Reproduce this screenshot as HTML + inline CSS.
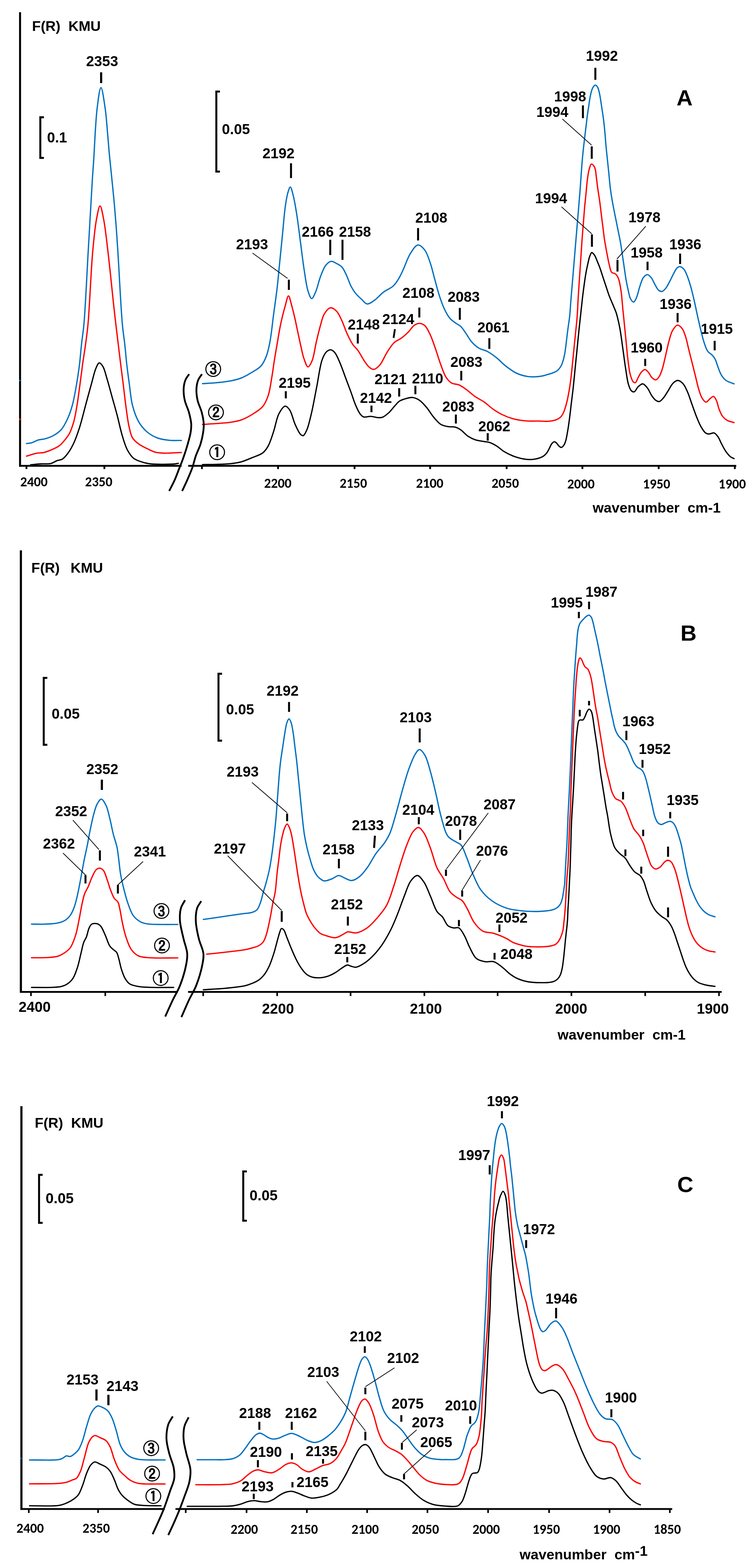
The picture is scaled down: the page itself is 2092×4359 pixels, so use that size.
<!DOCTYPE html>
<html><head><meta charset="utf-8"><title>F(R) spectra</title>
<style>
html,body{margin:0;padding:0;background:#fff;}
svg{display:block;}
text{font-family:"Liberation Sans",Arial,sans-serif;font-weight:bold;fill:#000;}
.a{font-size:40px;text-anchor:middle;}
.t{font-family:Carlito,"Liberation Sans",sans-serif;font-size:37.5px;text-anchor:middle;}
.w{font-size:39.5px;text-anchor:start;}
.L{font-size:62px;text-anchor:middle;}
.c{font-family:IPAGothic,"Liberation Sans",sans-serif;font-size:39px;text-anchor:middle;stroke:#000;stroke-width:0.9px;}
</style></head><body>
<svg xmlns="http://www.w3.org/2000/svg" width="2092" height="4359" viewBox="0 0 2092 4359">
<rect width="2092" height="4359" fill="#fff"/>
<path d="M85.0 1292.0 C94.3 1291.2 103.6 1290.2 113.0 1289.6 C122.5 1289.0 133.5 1290.5 141.6 1288.5 C148.2 1286.9 153.1 1282.5 158.6 1280.5 C163.4 1278.7 168.3 1279.2 172.7 1276.6 C177.9 1273.6 182.3 1268.3 186.9 1262.4 C192.8 1254.8 198.7 1244.8 203.9 1234.0 C210.2 1220.9 215.6 1205.2 220.9 1188.8 C227.0 1169.8 232.2 1147.3 237.8 1126.5 C243.5 1105.7 249.6 1082.6 254.8 1064.2 C258.9 1049.5 261.8 1034.6 266.2 1024.6 C269.1 1017.9 272.3 1009.1 275.8 1008.7 C278.9 1008.3 283.0 1014.1 286.0 1019.0 C290.7 1026.7 293.5 1040.5 297.3 1053.0 C301.9 1068.2 306.8 1086.9 311.5 1103.9 C316.2 1120.9 321.0 1137.3 325.6 1154.8 C330.4 1173.2 334.6 1194.4 339.8 1211.5 C344.2 1226.0 348.1 1240.0 354.0 1251.0 C358.9 1260.1 363.9 1268.1 371.0 1273.8 C378.0 1279.4 388.0 1282.3 396.4 1285.0 C404.0 1287.4 410.7 1288.6 419.0 1289.6 C429.1 1290.8 441.7 1290.7 453.0 1290.7 C464.3 1290.7 479.5 1290.4 487.0 1289.6 C490.8 1289.2 492.7 1288.5 495.5 1288.0" stroke="#000000" stroke-width="3.6" fill="none" stroke-linejoin="round" stroke-linecap="round"/>
<path d="M73.6 1233.0 C78.3 1232.3 82.8 1232.4 87.8 1231.0 C94.0 1229.3 101.1 1224.6 107.6 1222.8 C113.4 1221.1 118.6 1221.6 124.6 1220.0 C131.7 1218.1 139.9 1215.5 147.2 1211.5 C155.1 1207.2 163.5 1201.7 169.9 1194.5 C176.9 1186.8 181.9 1176.5 186.9 1166.0 C192.5 1154.1 197.0 1141.0 201.0 1126.5 C205.7 1109.5 209.1 1088.9 212.4 1070.0 C215.7 1051.1 218.5 1032.0 220.9 1013.0 C223.2 994.2 224.4 975.4 226.5 956.6 C228.6 937.7 231.1 924.7 233.3 900.0 C237.4 853.7 241.1 766.7 245.0 700.0 C248.9 633.3 253.7 544.4 256.5 500.0 C257.9 477.8 258.6 471.1 260.0 450.0 C262.5 413.4 265.2 337.9 270.0 300.0 C273.0 276.6 276.8 243.5 280.5 243.5 C284.2 243.5 289.1 280.8 292.0 300.0 C295.0 319.6 296.2 340.0 298.0 360.0 C299.8 380.0 301.2 400.0 303.0 420.0 C304.8 440.0 306.9 459.2 309.0 480.0 C311.2 502.4 313.8 526.7 316.0 550.0 C318.2 573.3 320.1 595.9 322.0 620.0 C324.0 645.8 325.4 667.3 327.5 700.0 C330.9 751.7 335.6 853.7 339.8 900.0 C342.0 924.7 344.5 937.7 346.6 956.6 C348.7 975.4 350.0 994.2 352.2 1013.0 C354.4 1032.0 357.0 1051.1 359.6 1070.0 C362.2 1088.9 363.5 1108.9 368.0 1126.5 C372.2 1142.7 377.7 1159.2 385.0 1172.0 C391.3 1183.1 399.0 1192.4 407.7 1200.0 C416.1 1207.3 425.8 1213.0 436.0 1217.0 C446.5 1221.1 458.6 1222.8 470.0 1224.0 C481.3 1225.2 492.7 1224.3 504.0 1224.5" stroke="#0070c0" stroke-width="3.6" fill="none" stroke-linejoin="round" stroke-linecap="round"/>
<path d="M73.6 1268.0 C83.1 1265.3 93.3 1261.6 102.0 1260.0 C109.1 1258.6 115.3 1259.5 121.8 1258.0 C128.5 1256.5 134.9 1253.9 141.6 1251.0 C148.9 1247.9 158.0 1244.1 164.0 1239.8 C168.8 1236.4 171.5 1233.1 175.5 1228.5 C180.8 1222.4 187.8 1214.5 192.5 1205.8 C197.8 1196.0 201.5 1184.3 205.0 1172.0 C208.9 1158.1 211.3 1142.5 214.0 1126.5 C217.0 1108.7 219.4 1088.9 222.0 1070.0 C224.6 1051.0 226.8 1031.9 229.4 1013.0 C232.0 994.1 235.3 975.4 237.8 956.6 C240.3 937.8 242.3 924.7 244.6 900.0 C248.9 853.7 252.7 753.5 257.5 700.0 C260.8 664.0 263.5 633.4 268.0 610.0 C270.9 594.7 274.7 572.5 278.0 572.5 C281.3 572.5 285.0 594.7 288.0 610.0 C292.7 633.4 295.9 666.2 300.0 700.0 C305.2 743.6 312.0 813.4 316.0 850.0 C318.3 871.1 319.7 882.8 321.7 900.0 C323.8 918.3 326.2 937.8 328.5 956.6 C330.8 975.4 333.0 994.2 335.3 1013.0 C337.7 1032.0 340.2 1051.0 342.6 1070.0 C344.9 1088.9 346.9 1107.7 349.4 1126.5 C352.0 1145.4 354.3 1166.7 357.9 1183.0 C360.8 1195.9 362.7 1208.1 368.0 1217.0 C372.4 1224.3 378.5 1229.1 385.0 1234.0 C391.7 1239.1 400.1 1242.8 407.7 1246.6 C415.2 1250.4 422.7 1254.6 430.4 1256.8 C437.8 1258.9 443.9 1259.2 453.0 1259.6 C466.6 1260.2 487.0 1258.5 504.0 1258.0" stroke="#ff0000" stroke-width="3.6" fill="none" stroke-linejoin="round" stroke-linecap="round"/>
<path d="M562.5 1291.5 C575.0 1291.3 587.3 1291.4 600.0 1291.0 C613.1 1290.6 627.7 1290.3 640.0 1289.0 C650.8 1287.8 660.1 1286.7 670.0 1284.0 C680.1 1281.2 690.1 1276.6 700.0 1272.5 C710.1 1268.3 722.2 1265.1 730.0 1259.0 C736.7 1253.8 740.5 1247.9 745.0 1240.0 C750.9 1229.5 755.2 1214.2 760.0 1200.0 C765.3 1184.3 768.2 1162.6 775.0 1150.0 C779.9 1140.9 786.9 1129.4 792.5 1129.0 C796.8 1128.7 801.2 1134.5 805.0 1140.0 C811.0 1148.7 814.5 1168.1 820.0 1180.0 C824.7 1190.2 830.1 1202.9 835.0 1207.5 C837.5 1209.9 840.1 1211.7 842.5 1211.0 C846.1 1209.9 849.4 1202.0 852.5 1195.0 C857.3 1184.0 860.9 1167.0 865.0 1150.0 C870.2 1128.3 875.0 1100.0 880.0 1075.0 C885.0 1050.0 888.6 1017.4 895.0 1000.0 C898.7 989.9 902.6 982.0 907.5 977.5 C911.0 974.4 915.3 972.2 919.0 972.5 C922.8 972.9 926.5 976.0 930.0 980.0 C935.5 986.3 940.3 999.1 945.0 1010.0 C950.3 1022.2 955.0 1036.7 960.0 1050.0 C965.0 1063.3 970.3 1077.1 975.0 1090.0 C979.4 1102.0 983.0 1114.4 987.5 1125.0 C991.4 1134.2 995.5 1144.0 1000.0 1150.0 C1003.2 1154.1 1005.7 1157.5 1010.0 1159.0 C1015.2 1160.8 1023.4 1157.2 1030.0 1157.5 C1036.7 1157.8 1044.1 1160.7 1050.0 1161.0 C1054.6 1161.2 1058.2 1161.6 1062.5 1160.0 C1068.1 1157.9 1074.4 1152.5 1080.0 1147.5 C1086.2 1141.9 1092.1 1133.3 1097.5 1127.5 C1101.9 1122.8 1104.9 1118.3 1110.0 1115.0 C1115.6 1111.4 1123.6 1109.2 1130.0 1107.5 C1135.6 1106.0 1140.5 1104.4 1146.0 1105.0 C1152.2 1105.7 1159.0 1108.5 1165.0 1112.5 C1172.1 1117.2 1178.6 1125.0 1185.0 1132.5 C1192.0 1140.7 1198.0 1151.8 1205.0 1160.0 C1211.4 1167.5 1217.7 1175.7 1225.0 1180.0 C1231.2 1183.7 1238.3 1184.8 1245.0 1186.0 C1251.6 1187.2 1259.0 1185.8 1265.0 1187.5 C1270.5 1189.0 1274.9 1191.6 1280.0 1195.0 C1286.5 1199.3 1293.0 1207.8 1300.0 1212.5 C1306.4 1216.8 1312.8 1220.0 1320.0 1222.5 C1327.7 1225.1 1337.7 1226.2 1345.0 1227.5 C1350.6 1228.5 1354.8 1228.3 1360.0 1230.0 C1366.3 1232.1 1373.5 1236.0 1380.0 1240.0 C1386.9 1244.2 1392.7 1250.5 1400.0 1255.0 C1407.7 1259.7 1416.5 1264.1 1425.0 1267.5 C1433.2 1270.8 1441.6 1273.3 1450.0 1275.0 C1458.3 1276.6 1466.7 1277.9 1475.0 1277.5 C1483.4 1277.1 1493.6 1274.9 1500.0 1272.7 C1504.4 1271.2 1507.3 1269.8 1510.5 1267.5 C1513.7 1265.2 1516.6 1262.1 1519.2 1258.8 C1521.9 1255.2 1524.0 1250.6 1526.2 1246.5 C1528.4 1242.5 1529.8 1237.5 1532.3 1234.3 C1534.3 1231.7 1536.9 1228.6 1539.3 1228.2 C1541.3 1227.9 1543.5 1229.3 1545.4 1230.8 C1547.9 1232.7 1549.9 1237.3 1552.4 1239.6 C1554.6 1241.5 1557.1 1244.1 1559.4 1243.9 C1561.8 1243.7 1564.5 1240.5 1566.4 1237.8 C1568.7 1234.6 1570.1 1230.5 1571.6 1225.6 C1573.8 1218.6 1575.3 1208.8 1576.9 1199.4 C1578.8 1188.6 1580.5 1176.7 1582.1 1164.4 C1583.9 1150.7 1585.6 1135.3 1587.3 1120.8 C1589.1 1106.2 1590.9 1092.3 1592.6 1077.1 C1594.4 1060.4 1596.1 1042.2 1597.8 1024.7 C1599.6 1007.2 1601.3 989.8 1603.1 972.3 C1604.8 954.8 1606.5 937.1 1608.3 919.9 C1610.0 903.1 1612.0 885.7 1613.7 870.0 C1615.2 856.1 1616.5 843.3 1618.0 830.5 C1619.4 818.5 1620.8 807.2 1622.4 795.6 C1624.0 783.9 1625.7 771.4 1627.6 760.6 C1629.2 751.2 1631.0 742.6 1632.9 734.4 C1634.6 727.0 1635.9 719.3 1638.1 713.5 C1639.8 709.0 1641.8 702.5 1644.2 702.1 C1646.5 701.8 1649.8 706.7 1652.1 710.0 C1654.9 714.1 1656.8 720.3 1659.1 725.7 C1661.5 731.4 1663.7 736.7 1666.1 743.2 C1669.0 751.0 1671.9 760.7 1674.8 769.4 C1677.7 778.1 1680.6 786.9 1683.5 795.6 C1686.4 804.3 1689.2 813.6 1692.3 821.8 C1695.1 829.2 1698.1 835.8 1701.0 842.8 C1703.9 849.8 1707.6 858.3 1709.7 863.7 C1711.0 867.1 1711.6 868.1 1712.7 872.0 C1715.2 880.5 1719.4 898.5 1722.2 913.2 C1725.3 929.9 1727.5 948.9 1730.1 967.2 C1732.8 986.0 1735.3 1006.5 1738.1 1024.3 C1740.6 1040.1 1742.5 1057.5 1746.0 1068.7 C1748.3 1076.0 1750.5 1082.8 1753.9 1086.1 C1756.2 1088.3 1759.2 1090.0 1761.8 1089.3 C1765.6 1088.3 1768.8 1078.8 1773.0 1075.0 C1776.8 1071.6 1781.5 1066.8 1785.6 1067.1 C1790.0 1067.4 1794.4 1073.5 1798.3 1078.2 C1803.1 1084.0 1806.6 1094.2 1811.0 1100.4 C1814.6 1105.4 1818.2 1110.5 1822.1 1113.1 C1825.1 1115.1 1828.5 1116.9 1831.6 1116.3 C1835.4 1115.6 1839.1 1110.7 1842.7 1106.7 C1847.1 1101.7 1851.1 1094.3 1855.4 1087.7 C1860.1 1080.6 1864.4 1070.7 1869.7 1065.5 C1873.7 1061.6 1878.0 1057.7 1882.4 1057.6 C1887.0 1057.5 1892.5 1061.4 1896.6 1065.5 C1901.8 1070.6 1905.4 1079.3 1909.3 1087.7 C1914.0 1097.8 1917.8 1111.0 1922.0 1122.6 C1926.2 1134.2 1930.3 1146.5 1934.7 1157.5 C1938.8 1167.6 1942.7 1177.9 1947.4 1186.0 C1951.3 1192.8 1955.6 1200.2 1960.1 1203.5 C1963.1 1205.7 1966.1 1206.4 1969.6 1206.6 C1973.8 1206.8 1979.6 1202.3 1983.8 1203.5 C1988.1 1204.8 1991.7 1210.1 1995.0 1214.6 C1998.8 1219.8 2001.0 1227.1 2004.5 1233.6 C2008.3 1240.8 2012.5 1249.4 2017.1 1255.8 C2021.1 1261.3 2025.5 1266.9 2029.8 1270.1 C2033.0 1272.5 2036.2 1273.2 2039.4 1274.8" stroke="#000000" stroke-width="3.6" fill="none" stroke-linejoin="round" stroke-linecap="round"/>
<path d="M562.5 1180.0 C575.0 1179.2 587.3 1178.5 600.0 1177.5 C613.1 1176.5 627.7 1175.9 640.0 1174.0 C650.8 1172.4 660.2 1170.9 670.0 1167.5 C680.2 1163.9 690.3 1158.5 700.0 1152.5 C710.3 1146.1 722.4 1139.1 730.0 1130.0 C737.2 1121.4 741.0 1111.6 745.0 1100.0 C749.9 1085.7 752.1 1066.7 755.0 1050.0 C757.9 1033.4 759.8 1016.7 762.5 1000.0 C765.2 983.3 768.1 966.7 771.0 950.0 C773.9 933.3 776.4 916.6 780.0 900.0 C783.6 883.3 788.4 864.1 792.5 850.0 C795.6 839.4 798.5 822.5 801.5 822.5 C804.5 822.5 807.7 840.3 810.5 850.0 C813.6 860.7 816.3 872.2 819.0 884.0 C821.9 896.7 824.7 910.4 827.5 923.6 C830.3 936.8 833.1 950.4 836.0 963.0 C838.7 974.8 840.8 987.0 844.5 997.0 C847.6 1005.6 851.8 1019.6 855.8 1019.9 C859.4 1020.1 863.8 1010.5 867.0 1003.0 C872.2 990.9 874.6 968.5 878.5 952.0 C882.2 936.4 885.8 920.6 889.8 906.6 C893.3 894.4 895.5 881.6 901.0 872.7 C905.5 865.4 912.0 856.6 918.0 855.7 C923.4 854.9 930.1 860.1 935.0 865.0 C941.2 871.2 945.4 882.3 950.0 892.0 C955.1 902.8 958.9 915.9 964.0 927.0 C968.9 937.6 974.2 949.0 980.0 957.5 C984.7 964.5 990.3 968.4 995.0 975.0 C1000.3 982.4 1004.8 992.3 1010.0 1000.0 C1014.8 1007.2 1019.6 1015.4 1025.0 1020.0 C1029.1 1023.5 1033.5 1027.3 1038.0 1027.0 C1043.4 1026.7 1049.7 1020.8 1055.0 1015.0 C1062.4 1006.9 1068.0 990.8 1075.0 980.0 C1081.4 970.1 1087.6 959.4 1095.0 952.5 C1101.2 946.8 1108.5 944.8 1115.0 940.0 C1121.9 934.9 1129.0 928.6 1135.0 922.5 C1140.6 916.9 1144.5 909.0 1150.0 905.0 C1154.6 901.7 1160.0 899.0 1165.0 899.0 C1170.0 899.0 1175.5 901.2 1180.0 905.0 C1186.0 910.1 1190.4 920.5 1195.0 930.0 C1200.6 941.6 1205.1 956.2 1210.0 970.0 C1215.1 984.5 1219.7 1001.0 1225.0 1015.0 C1229.8 1027.5 1234.0 1041.2 1240.0 1050.0 C1244.5 1056.6 1249.1 1061.7 1255.0 1065.0 C1260.8 1068.3 1268.5 1067.3 1275.0 1070.0 C1281.9 1072.9 1288.1 1077.6 1295.0 1082.5 C1303.0 1088.2 1311.5 1096.6 1320.0 1102.5 C1328.1 1108.2 1336.9 1111.8 1345.0 1117.5 C1353.5 1123.4 1361.5 1131.6 1370.0 1137.5 C1378.1 1143.2 1386.1 1148.2 1395.0 1152.5 C1404.4 1157.1 1414.5 1161.1 1425.0 1164.0 C1436.1 1167.0 1447.9 1168.9 1460.0 1170.0 C1472.8 1171.2 1489.4 1170.2 1500.0 1170.5 C1507.0 1170.7 1511.7 1171.5 1517.5 1171.4 C1523.3 1171.3 1529.7 1170.7 1535.0 1169.7 C1539.5 1168.8 1543.4 1168.0 1547.2 1166.2 C1551.0 1164.5 1554.6 1162.2 1557.6 1159.2 C1560.8 1155.9 1563.3 1151.6 1565.5 1147.0 C1568.0 1141.8 1569.8 1135.6 1571.6 1129.5 C1573.6 1122.9 1575.3 1115.7 1576.9 1108.5 C1578.5 1101.1 1579.8 1093.9 1581.2 1085.8 C1582.8 1076.6 1584.3 1066.1 1585.6 1056.1 C1586.9 1045.8 1588.0 1035.5 1589.1 1024.7 C1590.3 1013.4 1591.4 1001.4 1592.6 989.7 C1593.8 978.1 1594.9 966.4 1596.1 954.8 C1597.3 943.2 1598.4 931.5 1599.6 919.9 C1600.8 908.2 1602.0 898.3 1603.1 884.9 C1604.5 867.0 1605.5 841.9 1606.7 821.8 C1607.8 803.5 1609.0 786.9 1610.2 769.4 C1611.4 751.9 1612.5 734.5 1613.7 717.0 C1614.9 699.5 1616.0 681.3 1617.2 664.6 C1618.3 649.4 1619.5 635.5 1620.7 620.9 C1621.8 606.3 1622.9 590.9 1624.1 577.2 C1625.2 564.9 1626.4 554.6 1627.6 542.3 C1629.0 528.6 1630.3 511.3 1632.0 498.6 C1633.3 488.7 1634.3 480.0 1636.4 472.4 C1638.1 466.2 1640.1 456.7 1643.0 456.0 C1645.1 455.5 1648.5 459.5 1650.3 461.9 C1652.1 464.4 1652.9 467.1 1653.8 470.7 C1655.2 475.8 1655.5 482.5 1656.5 489.9 C1657.8 499.8 1659.2 513.2 1660.8 524.8 C1662.4 536.4 1664.5 548.0 1666.1 559.7 C1667.7 571.3 1668.9 583.0 1670.4 594.7 C1671.8 606.3 1673.3 618.0 1674.8 629.6 C1676.3 641.3 1677.5 653.0 1679.2 664.6 C1681.0 676.3 1683.1 687.9 1685.3 699.5 C1687.5 711.1 1689.7 724.1 1692.3 734.4 C1694.4 742.8 1695.6 753.0 1699.3 757.1 C1701.6 759.7 1705.6 759.2 1708.0 760.6 C1709.9 761.7 1711.2 762.4 1712.7 764.2 C1715.0 767.0 1717.2 771.6 1719.0 776.9 C1721.8 785.0 1723.6 796.9 1725.4 808.6 C1727.5 822.8 1728.5 840.3 1730.1 856.2 C1731.7 872.0 1733.3 887.9 1734.9 903.7 C1736.5 919.6 1738.0 935.4 1739.6 951.3 C1741.2 967.2 1742.5 983.6 1744.4 998.9 C1746.2 1013.2 1747.7 1028.9 1750.7 1040.1 C1752.9 1048.3 1755.4 1057.0 1758.7 1060.7 C1760.6 1062.8 1763.0 1064.5 1765.0 1063.9 C1768.0 1063.0 1770.1 1054.5 1772.9 1049.6 C1775.9 1044.4 1778.8 1037.6 1782.5 1033.8 C1785.4 1030.8 1788.9 1027.2 1792.0 1027.4 C1795.2 1027.6 1798.6 1032.0 1801.5 1035.3 C1805.0 1039.2 1807.2 1046.1 1811.0 1049.6 C1814.3 1052.7 1818.7 1056.4 1822.1 1056.0 C1825.6 1055.5 1828.9 1050.5 1831.6 1046.5 C1834.9 1041.5 1837.0 1035.0 1839.5 1027.4 C1842.9 1017.0 1845.9 1002.3 1849.0 989.4 C1852.2 975.9 1855.1 960.5 1858.6 948.1 C1861.6 937.6 1863.6 927.4 1868.1 919.6 C1871.9 913.1 1877.6 904.2 1882.4 903.7 C1886.6 903.3 1891.5 908.8 1895.0 913.2 C1899.3 918.7 1901.8 927.2 1904.6 935.4 C1907.8 944.9 1909.7 956.1 1912.5 967.2 C1915.5 979.3 1918.8 992.5 1922.0 1005.2 C1925.2 1017.9 1928.3 1030.6 1931.5 1043.3 C1934.7 1056.0 1937.5 1070.0 1941.0 1081.3 C1943.9 1090.7 1946.4 1100.3 1950.5 1106.7 C1953.6 1111.6 1957.8 1117.7 1961.6 1117.8 C1965.2 1117.9 1969.0 1111.0 1972.7 1108.3 C1975.9 1105.9 1979.5 1101.5 1982.3 1102.0 C1985.4 1102.6 1987.9 1108.4 1990.2 1113.1 C1993.4 1119.6 1995.0 1130.7 1998.1 1138.4 C2000.9 1145.3 2003.6 1152.3 2007.6 1157.5 C2011.2 1162.1 2015.3 1165.7 2020.3 1168.6 C2025.8 1171.7 2033.0 1172.8 2039.4 1174.9" stroke="#ff0000" stroke-width="3.6" fill="none" stroke-linejoin="round" stroke-linecap="round"/>
<path d="M562.5 1066.5 C575.0 1065.7 587.3 1065.2 600.0 1064.0 C613.1 1062.7 627.7 1061.4 640.0 1059.0 C650.8 1056.9 660.2 1054.9 670.0 1051.0 C680.2 1047.0 690.6 1040.8 700.0 1035.0 C708.9 1029.5 718.4 1024.9 725.0 1017.5 C731.7 1010.0 736.0 1000.3 740.0 990.0 C744.6 978.2 747.0 965.5 750.0 950.0 C754.0 929.0 756.7 900.0 760.0 875.0 C763.3 850.0 767.1 825.0 770.0 800.0 C772.9 775.0 775.0 750.0 777.5 725.0 C780.0 700.0 782.5 675.0 785.0 650.0 C787.5 625.0 789.5 596.0 792.5 575.0 C794.7 559.5 796.9 545.0 800.0 535.0 C801.9 528.7 804.3 519.9 806.5 520.0 C809.3 520.1 812.4 534.9 815.0 545.0 C818.8 559.7 821.9 580.2 825.0 600.0 C828.6 623.0 831.7 650.0 835.0 675.0 C838.3 700.0 841.3 726.4 845.0 750.0 C848.3 771.2 851.2 795.6 856.0 810.0 C858.9 818.7 862.4 829.9 866.0 830.0 C869.6 830.1 874.0 818.0 877.5 810.0 C882.2 799.2 885.2 782.5 890.0 770.0 C894.4 758.5 898.9 745.0 905.0 737.5 C909.4 732.1 914.8 727.2 920.0 726.5 C924.8 725.9 930.1 729.9 935.0 732.5 C940.1 735.2 945.7 737.8 950.0 742.5 C955.2 748.1 958.5 756.8 962.5 765.0 C966.9 774.2 970.4 786.2 975.0 795.0 C978.9 802.5 982.6 808.8 987.5 815.0 C992.5 821.3 999.3 827.3 1005.0 832.5 C1010.1 837.1 1014.4 844.4 1020.0 845.0 C1026.0 845.7 1033.3 839.6 1040.0 835.0 C1048.2 829.4 1056.2 819.2 1065.0 812.5 C1073.7 805.9 1085.2 801.8 1092.5 795.0 C1098.9 789.1 1103.0 782.3 1107.5 775.0 C1112.2 767.3 1115.5 759.6 1120.0 750.0 C1126.0 737.2 1132.2 717.2 1140.0 705.0 C1146.3 695.2 1153.8 681.8 1161.0 681.0 C1167.2 680.3 1174.7 688.3 1180.0 695.0 C1186.7 703.5 1190.6 717.4 1195.0 730.0 C1199.9 743.9 1203.3 760.0 1207.5 775.0 C1211.7 790.0 1215.3 805.5 1220.0 820.0 C1224.5 833.8 1229.4 848.4 1235.0 860.0 C1239.6 869.5 1244.4 878.4 1250.0 885.0 C1254.6 890.4 1259.9 893.7 1265.0 897.5 C1269.9 901.2 1275.3 903.1 1280.0 907.5 C1285.5 912.7 1290.1 920.6 1295.0 927.5 C1300.1 934.7 1304.1 943.3 1310.0 950.0 C1315.8 956.6 1322.5 962.9 1330.0 967.5 C1337.5 972.1 1346.9 973.1 1355.0 977.5 C1363.6 982.2 1371.9 988.5 1380.0 995.0 C1388.5 1001.8 1396.0 1010.5 1405.0 1017.5 C1414.3 1024.7 1424.6 1032.6 1435.0 1037.5 C1444.7 1042.1 1455.7 1044.9 1465.0 1046.5 C1472.8 1047.8 1480.0 1047.7 1487.0 1047.5 C1493.3 1047.3 1499.3 1046.6 1505.0 1045.5 C1510.3 1044.5 1515.0 1042.9 1520.0 1041.5 C1525.0 1040.1 1530.4 1038.8 1535.0 1037.0 C1539.1 1035.4 1543.2 1033.7 1546.3 1031.7 C1548.8 1030.1 1550.4 1028.6 1552.4 1026.4 C1554.8 1023.6 1557.4 1019.9 1559.4 1016.0 C1561.6 1011.8 1563.1 1007.1 1564.6 1002.0 C1566.3 996.2 1567.7 989.6 1569.0 982.8 C1570.4 975.2 1571.4 966.9 1572.5 958.3 C1573.7 948.9 1574.8 938.2 1576.0 928.6 C1577.1 919.6 1578.3 911.1 1579.5 902.4 C1580.7 893.7 1582.0 885.7 1583.0 876.2 C1584.2 864.9 1584.6 852.6 1585.7 839.2 C1587.0 823.2 1588.6 804.3 1590.1 786.8 C1591.6 769.3 1593.0 751.9 1594.5 734.4 C1595.9 716.9 1597.4 699.5 1598.8 682.0 C1600.3 664.5 1601.7 647.1 1603.2 629.6 C1604.7 612.1 1606.1 594.7 1607.6 577.2 C1609.0 559.7 1610.6 541.6 1611.9 524.8 C1613.1 509.3 1613.9 494.8 1615.0 480.0 C1616.1 465.3 1617.3 449.3 1618.5 436.2 C1619.5 425.5 1620.4 416.8 1621.5 407.1 C1622.6 397.4 1623.8 387.7 1624.9 378.0 C1626.1 368.3 1627.2 358.6 1628.4 348.9 C1629.6 339.2 1630.7 329.0 1631.9 319.8 C1633.0 311.6 1634.2 304.3 1635.4 296.5 C1636.6 288.7 1637.5 280.7 1638.9 273.2 C1640.2 266.0 1641.7 257.9 1643.6 252.2 C1645.0 248.0 1646.2 244.4 1648.2 241.7 C1649.9 239.4 1652.1 236.5 1654.1 236.5 C1656.0 236.5 1658.3 239.3 1659.9 241.7 C1662.1 245.0 1663.3 250.7 1664.6 255.7 C1666.0 261.2 1666.9 266.9 1668.0 273.2 C1669.2 280.4 1670.3 288.7 1671.5 296.5 C1672.7 304.3 1673.9 312.0 1675.0 319.8 C1676.1 327.5 1677.1 334.8 1678.0 343.0 C1679.0 352.1 1680.0 362.4 1680.9 372.1 C1681.8 381.8 1682.3 391.1 1683.2 401.3 C1684.2 412.4 1685.4 423.9 1686.7 436.2 C1688.1 450.0 1689.8 465.3 1691.3 480.0 C1692.8 494.8 1693.9 510.0 1695.8 524.8 C1697.7 539.5 1700.3 554.8 1702.8 568.5 C1705.0 580.8 1707.4 591.8 1709.7 603.4 C1712.0 615.1 1714.4 626.7 1716.7 638.4 C1719.0 650.0 1721.6 661.6 1723.7 673.3 C1725.7 684.9 1727.3 696.6 1729.0 708.2 C1730.8 719.9 1732.5 731.5 1734.2 743.2 C1735.9 754.8 1737.5 767.3 1739.4 778.1 C1741.0 787.5 1742.7 795.6 1744.7 804.3 C1746.8 813.1 1748.3 824.3 1751.7 830.5 C1754.0 834.7 1757.6 839.9 1760.3 839.7 C1763.2 839.5 1765.8 832.8 1768.2 827.6 C1771.9 819.7 1774.3 805.6 1777.7 795.9 C1780.7 787.3 1783.0 777.7 1787.2 772.1 C1790.3 768.0 1794.6 763.5 1798.3 763.5 C1802.0 763.5 1806.1 768.2 1809.4 772.1 C1813.7 777.2 1816.8 786.5 1820.5 792.7 C1823.7 798.0 1826.3 804.1 1830.0 807.0 C1832.8 809.2 1836.5 810.8 1839.5 810.2 C1842.9 809.6 1846.0 805.8 1849.0 802.2 C1853.0 797.5 1856.6 789.8 1860.2 783.2 C1864.0 776.2 1867.6 767.7 1871.3 761.0 C1874.5 755.2 1877.2 748.4 1880.8 745.1 C1883.2 742.9 1885.9 741.1 1888.7 741.3 C1892.1 741.5 1896.6 744.8 1899.8 748.3 C1903.8 752.7 1906.4 760.2 1909.3 767.3 C1912.8 775.8 1915.8 785.6 1918.8 795.9 C1922.2 807.6 1925.2 820.8 1928.3 834.0 C1931.6 848.2 1934.7 863.9 1937.9 878.4 C1941.0 892.4 1944.1 906.5 1947.4 919.6 C1950.5 931.7 1953.3 944.3 1956.9 954.5 C1959.8 962.8 1962.2 970.9 1966.4 976.7 C1969.9 981.5 1975.6 983.9 1979.1 987.8 C1982.3 991.3 1984.6 994.4 1987.0 998.9 C1990.1 1004.9 1992.1 1013.7 1995.0 1021.1 C1997.9 1028.5 2000.5 1037.0 2004.5 1043.3 C2008.0 1048.9 2011.8 1053.8 2017.1 1057.6 C2023.1 1061.9 2032.0 1063.9 2039.4 1067.1" stroke="#0070c0" stroke-width="3.6" fill="none" stroke-linejoin="round" stroke-linecap="round"/>
<line x1="1097.2" y1="915.0" x2="1093.4" y2="939.5" stroke="#000" stroke-width="5.0"/>
<line x1="55.7" y1="34.0" x2="55.7" y2="1297.5" stroke="#000" stroke-width="5.5"/>
<line x1="53.0" y1="1295.0" x2="504.5" y2="1295.0" stroke="#000" stroke-width="5.0"/>
<line x1="522.8" y1="1295.0" x2="2045.5" y2="1295.0" stroke="#000" stroke-width="5.0"/>
<path d="M525.5 1040.0 C522.0 1045.5 517.5 1050.3 515.0 1056.6 C512.2 1063.7 510.6 1072.2 510.2 1080.9 C509.7 1090.9 511.0 1102.6 513.4 1113.3 C515.8 1124.2 521.7 1134.7 524.7 1145.6 C527.6 1156.3 530.5 1167.9 531.2 1178.0 C531.8 1186.6 530.9 1193.6 529.6 1202.2 C528.0 1212.3 524.7 1223.3 521.5 1234.6 C517.9 1247.4 512.7 1263.2 508.5 1275.0 C505.2 1284.4 502.3 1291.0 498.8 1300.0 C494.6 1310.7 490.0 1323.9 485.0 1335.0 C480.3 1345.5 475.0 1355.0 470.0 1365.0" stroke="#000000" stroke-width="5.0" fill="none" stroke-linecap="butt"/>
<path d="M561.1 1040.0 C557.6 1045.5 553.1 1050.3 550.6 1056.6 C547.8 1063.7 546.2 1072.2 545.8 1080.9 C545.3 1090.9 546.6 1102.6 549.0 1113.3 C551.4 1124.2 557.5 1134.7 560.3 1145.6 C563.1 1156.3 565.5 1168.0 566.0 1178.0 C566.5 1186.6 565.6 1193.6 564.4 1202.2 C562.9 1212.3 560.4 1223.9 557.1 1234.6 C553.7 1245.5 547.9 1256.1 544.1 1267.0 C540.3 1277.9 538.3 1288.9 534.4 1300.0 C530.3 1311.6 524.9 1323.8 520.0 1335.0 C515.4 1345.4 510.7 1355.0 506.0 1365.0" stroke="#000000" stroke-width="5.0" fill="none" stroke-linecap="butt"/>
<line x1="73.5" y1="1295.0" x2="73.5" y2="1304.0" stroke="#000" stroke-width="5.0"/>
<line x1="290.0" y1="1295.0" x2="290.0" y2="1304.0" stroke="#000" stroke-width="5.0"/>
<line x1="561.0" y1="1295.0" x2="561.0" y2="1304.0" stroke="#000" stroke-width="5.0"/>
<line x1="772.5" y1="1295.0" x2="772.5" y2="1304.0" stroke="#000" stroke-width="5.0"/>
<line x1="985.0" y1="1295.0" x2="985.0" y2="1304.0" stroke="#000" stroke-width="5.0"/>
<line x1="1195.0" y1="1295.0" x2="1195.0" y2="1304.0" stroke="#000" stroke-width="5.0"/>
<line x1="1407.5" y1="1295.0" x2="1407.5" y2="1304.0" stroke="#000" stroke-width="5.0"/>
<line x1="1618.0" y1="1295.0" x2="1618.0" y2="1304.0" stroke="#000" stroke-width="5.0"/>
<line x1="1830.0" y1="1295.0" x2="1830.0" y2="1304.0" stroke="#000" stroke-width="5.0"/>
<line x1="2041.5" y1="1295.0" x2="2041.5" y2="1304.0" stroke="#000" stroke-width="5.0"/>
<line x1="281.0" y1="201.0" x2="281.0" y2="231.0" stroke="#000" stroke-width="6.0"/>
<line x1="808.5" y1="454.0" x2="808.5" y2="495.0" stroke="#000" stroke-width="5.5"/>
<line x1="802.5" y1="777.5" x2="802.5" y2="806.0" stroke="#000" stroke-width="5.5"/>
<line x1="917.5" y1="666.5" x2="917.5" y2="709.0" stroke="#000" stroke-width="5.5"/>
<line x1="951.5" y1="666.5" x2="951.5" y2="722.5" stroke="#000" stroke-width="5.5"/>
<line x1="994.0" y1="927.5" x2="994.0" y2="955.0" stroke="#000" stroke-width="5.5"/>
<line x1="1161.5" y1="634.0" x2="1161.5" y2="668.5" stroke="#000" stroke-width="5.5"/>
<line x1="1165.0" y1="855.0" x2="1165.0" y2="882.5" stroke="#000" stroke-width="5.5"/>
<line x1="1277.5" y1="856.0" x2="1277.5" y2="889.0" stroke="#000" stroke-width="5.5"/>
<line x1="1359.5" y1="940.0" x2="1359.5" y2="970.0" stroke="#000" stroke-width="5.5"/>
<line x1="1281.5" y1="1031.0" x2="1281.5" y2="1057.5" stroke="#000" stroke-width="5.5"/>
<line x1="1109.0" y1="1079.0" x2="1109.0" y2="1102.5" stroke="#000" stroke-width="5.5"/>
<line x1="1154.0" y1="1072.5" x2="1154.0" y2="1096.0" stroke="#000" stroke-width="5.5"/>
<line x1="1032.0" y1="1127.5" x2="1032.0" y2="1146.0" stroke="#000" stroke-width="5.5"/>
<line x1="794.0" y1="1087.5" x2="794.0" y2="1107.5" stroke="#000" stroke-width="5.5"/>
<line x1="1266.5" y1="1152.5" x2="1266.5" y2="1177.5" stroke="#000" stroke-width="5.5"/>
<line x1="1355.0" y1="1204.0" x2="1355.0" y2="1225.0" stroke="#000" stroke-width="5.5"/>
<line x1="1654.0" y1="188.5" x2="1654.0" y2="222.0" stroke="#000" stroke-width="5.5"/>
<line x1="1619.5" y1="293.0" x2="1619.5" y2="328.5" stroke="#000" stroke-width="5.5"/>
<line x1="1644.0" y1="406.8" x2="1644.0" y2="441.5" stroke="#000" stroke-width="5.5"/>
<line x1="1644.5" y1="651.5" x2="1644.5" y2="686.0" stroke="#000" stroke-width="5.5"/>
<line x1="1715.5" y1="722.5" x2="1715.5" y2="755.0" stroke="#000" stroke-width="5.5"/>
<line x1="1799.0" y1="727.5" x2="1799.0" y2="751.0" stroke="#000" stroke-width="5.5"/>
<line x1="1889.5" y1="705.0" x2="1889.5" y2="734.0" stroke="#000" stroke-width="5.5"/>
<line x1="1882.5" y1="870.0" x2="1882.5" y2="896.0" stroke="#000" stroke-width="5.5"/>
<line x1="1985.5" y1="947.5" x2="1985.5" y2="974.0" stroke="#000" stroke-width="5.5"/>
<line x1="1792.5" y1="997.5" x2="1792.5" y2="1017.5" stroke="#000" stroke-width="5.5"/>
<line x1="701.5" y1="703.5" x2="799.0" y2="774.0" stroke="#000" stroke-width="2"/>
<line x1="1562.4" y1="330.7" x2="1643.5" y2="403.5" stroke="#000" stroke-width="2"/>
<line x1="1560.0" y1="575.0" x2="1644.0" y2="650.0" stroke="#000" stroke-width="2"/>
<line x1="1794.0" y1="629.0" x2="1714.0" y2="720.0" stroke="#000" stroke-width="2"/>
<path d="M122.0 326.0 H112.0 V439.0 H122.0" stroke="#000" stroke-width="5.5" fill="none"/>
<path d="M611.0 254.5 H601.0 V477.0 H611.0" stroke="#000" stroke-width="5.5" fill="none"/>
<circle cx="592.4" cy="1025.9" r="20.5" stroke="#000" stroke-width="3" fill="none"/>
<text x="592.4" y="1040.9" class="c">3</text>
<circle cx="600.0" cy="1146.4" r="20.5" stroke="#000" stroke-width="3" fill="none"/>
<text x="600.0" y="1161.4" class="c">2</text>
<circle cx="603.2" cy="1257.3" r="20.5" stroke="#000" stroke-width="3" fill="none"/>
<text x="603.2" y="1272.3" class="c">1</text>
<rect x="53.0" y="1056.0" width="4.0" height="3.6" fill="#0070c0"/>
<rect x="53.0" y="1163.0" width="4.0" height="5.5" fill="#ff0000"/>
<text x="283.8" y="184.0" class="a">2353</text>
<text x="158.5" y="396.0" class="a">0.1</text>
<text x="655.5" y="372.5" class="a">0.05</text>
<text x="773.8" y="440.0" class="a">2192</text>
<text x="700.2" y="692.5" class="a">2193</text>
<text x="882.8" y="657.5" class="a">2166</text>
<text x="986.2" y="657.5" class="a">2158</text>
<text x="1010.8" y="916.0" class="a">2148</text>
<text x="1106.5" y="901.0" class="a">2124</text>
<text x="1198.2" y="618.5" class="a">2108</text>
<text x="1162.5" y="827.5" class="a">2108</text>
<text x="1288.2" y="839.0" class="a">2083</text>
<text x="1370.8" y="924.0" class="a">2061</text>
<text x="1295.8" y="1020.0" class="a">2083</text>
<text x="1085.0" y="1067.5" class="a">2121</text>
<text x="1188.0" y="1066.0" class="a">2110</text>
<text x="1044.5" y="1120.0" class="a">2142</text>
<text x="818.8" y="1077.5" class="a">2195</text>
<text x="1273.2" y="1144.0" class="a">2083</text>
<text x="1373.2" y="1198.5" class="a">2062</text>
<text x="1672.2" y="169.0" class="a">1992</text>
<text x="1584.0" y="282.0" class="a">1998</text>
<text x="1534.4" y="325.0" class="a">1994</text>
<text x="1531.0" y="565.0" class="a">1994</text>
<text x="1790.5" y="617.5" class="a">1978</text>
<text x="1796.5" y="716.0" class="a">1958</text>
<text x="1904.0" y="692.5" class="a">1936</text>
<text x="1877.0" y="859.0" class="a">1936</text>
<text x="1991.5" y="927.5" class="a">1915</text>
<text x="1796.5" y="980.0" class="a">1960</text>
<text x="1902.0" y="293.0" class="L">A</text>
<text x="89.0" y="85.5" class="w">F(R)&#160; KMU</text>
<text x="1646.5" y="1425.0" class="w">wavenumber&#160; cm-1</text>
<text x="94.2" y="1351.5" class="t">2400</text>
<text x="274.2" y="1351.5" class="t">2350</text>
<text x="771.8" y="1356.0" class="t">2200</text>
<text x="981.8" y="1356.0" class="t">2150</text>
<text x="1193.8" y="1356.0" class="t">2100</text>
<text x="1403.8" y="1356.0" class="t">2050</text>
<text x="1614.0" y="1357.5" class="t">2000</text>
<text x="1824.0" y="1357.5" class="t">1950</text>
<text x="2034.2" y="1357.5" class="t">1900</text>
<path d="M87.5 2569.0 C100.0 2569.0 112.7 2569.5 125.0 2569.0 C136.9 2568.5 150.1 2568.1 160.0 2566.0 C167.7 2564.3 174.1 2562.5 180.0 2559.0 C185.8 2555.5 190.9 2550.5 195.0 2545.0 C199.3 2539.3 202.2 2532.2 205.0 2525.0 C208.1 2517.3 210.2 2509.1 212.5 2500.0 C215.2 2489.4 217.6 2477.1 220.0 2465.0 C222.6 2452.1 225.1 2437.9 227.5 2425.0 C229.7 2412.9 231.6 2402.0 234.0 2390.0 C236.6 2377.1 239.8 2363.3 242.5 2350.0 C245.2 2336.7 247.2 2323.7 250.0 2310.0 C253.0 2295.4 256.3 2278.4 260.0 2265.0 C263.1 2253.9 265.6 2242.7 270.0 2235.0 C273.3 2229.2 277.6 2221.4 281.5 2221.5 C285.9 2221.7 291.3 2232.5 295.0 2240.0 C299.6 2249.5 301.8 2262.6 305.0 2275.0 C308.6 2289.0 311.4 2306.0 315.0 2320.0 C318.2 2332.4 322.5 2343.2 325.0 2355.0 C327.5 2366.6 328.4 2377.9 330.0 2390.0 C331.7 2402.9 332.6 2416.3 335.0 2430.0 C337.5 2444.6 341.4 2461.0 345.0 2475.0 C348.2 2487.4 350.9 2498.5 355.0 2510.0 C359.2 2521.8 363.4 2535.9 370.0 2545.0 C375.5 2552.6 382.9 2558.6 390.0 2562.5 C396.3 2566.0 402.1 2567.2 410.0 2568.5 C421.0 2570.3 436.3 2569.7 450.0 2570.0 C464.3 2570.3 479.3 2570.0 494.0 2570.0" stroke="#0070c0" stroke-width="3.6" fill="none" stroke-linejoin="round" stroke-linecap="round"/>
<path d="M87.5 2662.5 C101.7 2662.3 117.1 2662.8 130.0 2662.0 C140.9 2661.3 151.5 2661.0 160.0 2658.5 C166.8 2656.5 171.9 2653.7 177.5 2650.0 C183.6 2646.0 190.0 2641.8 195.0 2635.0 C201.4 2626.3 205.9 2612.6 210.0 2600.0 C214.5 2586.1 217.0 2569.6 220.0 2555.0 C222.8 2541.3 224.8 2527.3 227.5 2515.0 C229.9 2504.2 231.7 2493.8 235.0 2485.0 C237.8 2477.5 241.8 2472.1 245.0 2465.0 C248.5 2457.2 251.2 2448.0 255.0 2440.0 C258.7 2432.2 262.7 2421.7 267.5 2417.5 C270.6 2414.8 274.2 2413.2 277.5 2413.5 C280.9 2413.8 284.6 2416.5 287.5 2420.0 C291.8 2425.3 294.3 2436.2 297.5 2445.0 C301.0 2454.5 303.9 2465.8 307.5 2475.0 C310.6 2483.1 313.6 2491.8 317.5 2497.5 C320.5 2501.8 325.0 2503.3 327.5 2507.5 C330.3 2512.2 330.8 2517.9 332.5 2525.0 C335.0 2535.6 337.1 2551.7 340.0 2565.0 C342.9 2578.4 345.7 2592.3 350.0 2605.0 C354.1 2617.2 358.4 2630.9 365.0 2640.0 C370.5 2647.6 377.0 2653.7 385.0 2657.5 C393.5 2661.5 402.6 2661.4 415.0 2662.5 C435.0 2664.2 467.7 2662.8 494.0 2663.0" stroke="#ff0000" stroke-width="3.6" fill="none" stroke-linejoin="round" stroke-linecap="round"/>
<path d="M87.5 2745.0 C105.0 2745.0 124.9 2745.6 140.0 2745.0 C151.4 2744.5 161.5 2744.6 170.0 2742.5 C176.8 2740.8 182.2 2738.6 187.5 2735.0 C193.1 2731.2 198.2 2726.4 202.5 2720.0 C207.8 2712.1 211.4 2700.9 215.0 2690.0 C219.1 2677.8 221.9 2662.4 225.0 2650.0 C227.7 2639.3 229.5 2628.2 232.5 2620.0 C234.7 2614.0 237.7 2610.7 240.0 2605.0 C242.8 2597.8 244.4 2586.5 247.5 2580.0 C249.7 2575.4 251.4 2571.0 255.0 2569.0 C258.8 2566.8 265.7 2566.8 270.0 2568.0 C273.9 2569.1 276.9 2571.4 280.0 2575.0 C284.7 2580.4 288.5 2591.2 292.5 2600.0 C296.8 2609.5 300.3 2623.0 305.0 2630.0 C308.1 2634.6 311.7 2637.0 315.0 2640.0 C318.0 2642.8 321.6 2644.1 324.0 2647.5 C327.0 2651.8 328.0 2658.3 330.0 2665.0 C332.5 2673.6 334.4 2685.6 337.5 2695.0 C340.4 2703.8 343.3 2713.0 347.5 2720.0 C351.1 2726.0 354.4 2731.3 360.0 2735.0 C366.4 2739.3 375.6 2740.8 385.0 2742.5 C396.7 2744.6 410.5 2744.5 425.0 2745.0 C442.4 2745.5 463.3 2745.0 482.5 2745.0" stroke="#000000" stroke-width="3.6" fill="none" stroke-linejoin="round" stroke-linecap="round"/>
<path d="M565.0 2556.0 C576.7 2554.3 587.9 2552.8 600.0 2551.0 C612.9 2549.1 627.1 2546.9 640.0 2545.0 C652.1 2543.2 664.3 2541.5 675.0 2540.0 C684.0 2538.7 693.0 2538.8 700.0 2536.5 C705.5 2534.7 710.2 2533.0 714.0 2529.0 C718.6 2524.2 721.2 2515.5 724.0 2508.0 C727.0 2499.9 728.5 2490.7 731.0 2482.0 C733.5 2473.3 736.2 2465.4 738.8 2455.8 C742.0 2444.2 745.7 2430.7 748.5 2417.0 C751.6 2401.8 754.0 2384.6 756.3 2368.4 C758.6 2352.2 760.3 2336.1 762.1 2319.9 C763.9 2303.7 765.7 2286.6 767.0 2271.3 C768.2 2257.6 768.9 2245.4 769.9 2232.5 C770.9 2219.5 771.8 2206.5 772.8 2193.6 C773.8 2180.7 774.6 2167.9 775.7 2155.0 C776.8 2142.0 778.0 2129.0 779.6 2116.0 C781.2 2103.0 783.5 2090.0 785.4 2077.0 C787.4 2064.0 789.2 2050.0 791.3 2038.0 C793.1 2027.6 794.5 2016.1 797.1 2009.0 C798.8 2004.4 801.0 1998.4 802.9 1998.4 C804.9 1998.4 807.1 2004.4 808.8 2009.0 C811.4 2016.1 812.9 2027.6 814.6 2038.0 C816.5 2050.0 817.8 2064.0 819.4 2077.0 C821.0 2090.0 822.8 2103.0 824.3 2116.0 C825.8 2129.0 826.9 2142.0 828.2 2155.0 C829.5 2167.9 830.8 2180.7 832.1 2193.6 C833.4 2206.5 834.6 2219.5 835.9 2232.5 C837.2 2245.4 838.3 2257.6 839.8 2271.3 C841.5 2286.6 843.2 2304.7 845.6 2319.9 C847.8 2333.6 850.6 2346.7 853.4 2358.7 C855.8 2369.1 858.3 2378.1 861.2 2387.8 C864.1 2397.6 867.0 2408.4 870.9 2417.0 C874.3 2424.3 878.1 2431.3 882.5 2436.4 C886.1 2440.6 890.6 2444.0 894.2 2446.1 C896.8 2447.6 898.5 2448.8 901.6 2449.0 C906.8 2449.3 916.1 2445.6 922.8 2443.0 C929.2 2440.5 934.9 2434.2 941.0 2434.0 C947.0 2433.8 953.1 2439.4 959.2 2441.7 C965.2 2444.0 971.2 2448.3 977.4 2447.8 C984.3 2447.3 992.1 2442.2 998.7 2437.0 C1006.4 2431.0 1013.1 2422.0 1020.0 2412.6 C1028.3 2401.3 1035.7 2385.2 1044.2 2373.2 C1052.0 2362.2 1061.7 2352.9 1068.5 2342.8 C1074.6 2333.7 1079.0 2326.2 1083.6 2315.5 C1089.4 2301.9 1093.7 2284.5 1098.8 2267.0 C1104.8 2246.6 1110.8 2221.9 1117.0 2200.2 C1122.9 2179.5 1128.6 2157.9 1135.2 2139.6 C1140.9 2124.0 1147.1 2106.8 1153.4 2097.0 C1157.3 2090.9 1161.2 2083.7 1165.5 2083.7 C1170.3 2083.7 1176.3 2092.6 1180.7 2100.0 C1187.2 2110.9 1191.1 2129.2 1195.9 2145.6 C1201.3 2164.3 1206.1 2185.6 1211.0 2206.3 C1216.2 2228.0 1220.2 2252.4 1226.2 2273.0 C1231.5 2291.5 1235.9 2313.2 1244.4 2324.6 C1250.3 2332.5 1259.1 2335.5 1265.7 2339.8 C1271.1 2343.4 1276.4 2344.0 1280.8 2349.0 C1287.2 2356.2 1290.9 2370.1 1296.0 2382.3 C1302.0 2396.9 1307.5 2415.3 1314.2 2430.8 C1320.7 2445.6 1326.5 2460.9 1335.4 2473.3 C1343.9 2485.0 1354.0 2495.1 1365.8 2503.6 C1378.2 2512.5 1393.3 2520.0 1408.3 2524.9 C1423.6 2529.8 1441.1 2531.4 1456.8 2532.8 C1471.6 2534.1 1489.1 2533.9 1500.0 2533.6 C1506.7 2533.4 1510.8 2533.0 1516.2 2532.4 C1521.6 2531.8 1527.5 2531.3 1532.4 2530.0 C1536.8 2528.9 1541.0 2527.5 1544.5 2525.5 C1547.6 2523.7 1550.3 2521.5 1552.6 2519.0 C1554.9 2516.4 1556.7 2513.5 1558.3 2510.2 C1560.0 2506.6 1561.2 2502.2 1562.3 2498.0 C1563.4 2493.6 1563.9 2489.1 1564.7 2484.3 C1565.6 2479.1 1566.5 2472.6 1567.2 2468.1 C1567.7 2464.9 1568.0 2463.9 1568.4 2460.0 C1569.5 2449.6 1570.5 2422.1 1571.6 2402.7 C1572.7 2382.8 1574.2 2362.2 1575.2 2342.0 C1576.2 2321.8 1576.9 2298.3 1577.6 2281.4 C1578.1 2269.2 1578.4 2261.5 1579.0 2250.0 C1579.7 2235.8 1580.7 2219.5 1581.5 2202.7 C1582.4 2183.7 1583.4 2162.2 1584.3 2142.0 C1585.2 2121.8 1585.9 2101.6 1586.7 2081.4 C1587.5 2061.2 1588.3 2040.5 1589.1 2020.7 C1589.9 2001.7 1590.8 1981.1 1591.5 1965.0 C1592.0 1952.8 1592.3 1943.8 1592.8 1932.7 C1593.3 1920.9 1593.9 1908.4 1594.6 1896.3 C1595.3 1884.2 1596.2 1872.0 1597.0 1859.9 C1597.8 1847.8 1598.5 1835.1 1599.4 1823.5 C1600.2 1812.9 1601.2 1802.7 1601.9 1793.2 C1602.6 1784.7 1603.0 1776.1 1603.7 1768.9 C1604.2 1763.1 1604.7 1758.0 1605.5 1753.1 C1606.2 1748.8 1606.8 1744.8 1608.0 1741.0 C1609.1 1737.5 1610.2 1734.4 1612.2 1731.3 C1614.4 1727.9 1617.9 1724.6 1620.7 1721.6 C1623.2 1718.9 1625.4 1716.3 1628.0 1714.3 C1630.5 1712.5 1633.5 1709.8 1635.9 1710.0 C1638.3 1710.2 1640.7 1712.9 1642.5 1715.5 C1644.9 1719.0 1645.9 1724.7 1647.4 1730.0 C1649.2 1736.2 1650.6 1743.7 1652.2 1750.7 C1653.8 1757.9 1655.5 1765.1 1657.1 1772.5 C1658.8 1780.1 1660.4 1787.7 1662.0 1795.6 C1663.7 1803.9 1665.2 1812.7 1666.8 1821.1 C1668.4 1829.3 1670.1 1837.2 1671.7 1845.3 C1673.3 1853.4 1674.9 1861.3 1676.5 1869.6 C1678.2 1878.3 1679.7 1887.6 1681.4 1896.3 C1683.0 1904.6 1684.6 1912.5 1686.2 1920.6 C1687.8 1928.7 1689.5 1936.8 1691.1 1944.9 C1692.7 1953.0 1694.3 1961.3 1695.9 1969.1 C1697.4 1976.3 1698.8 1983.9 1700.2 1990.0 C1701.2 1994.7 1702.3 1998.2 1703.2 2002.5 C1704.2 2007.0 1704.6 2011.3 1705.9 2016.2 C1707.5 2022.2 1709.7 2029.9 1712.4 2035.6 C1714.7 2040.5 1717.4 2044.7 1720.5 2048.5 C1723.4 2052.1 1727.2 2054.9 1730.2 2058.2 C1733.1 2061.4 1735.8 2064.4 1738.2 2068.0 C1740.7 2071.9 1742.5 2076.2 1744.7 2081.0 C1747.3 2086.8 1750.1 2093.9 1752.8 2100.3 C1755.5 2106.8 1757.7 2114.0 1760.9 2119.7 C1763.7 2124.7 1767.0 2129.5 1770.6 2132.7 C1773.6 2135.4 1777.5 2136.1 1780.3 2138.3 C1782.9 2140.4 1784.9 2142.5 1786.8 2145.6 C1789.4 2149.8 1791.3 2155.8 1793.3 2161.8 C1795.7 2169.0 1797.6 2177.7 1799.7 2186.0 C1801.9 2194.9 1804.1 2204.3 1806.2 2213.6 C1808.4 2223.2 1810.5 2233.1 1812.7 2242.7 C1814.9 2252.2 1816.7 2263.0 1819.6 2271.0 C1821.9 2277.3 1824.2 2283.7 1827.7 2287.2 C1830.4 2289.9 1834.0 2292.0 1837.4 2292.1 C1841.0 2292.2 1844.8 2288.7 1848.7 2287.2 C1852.8 2285.7 1857.8 2282.9 1861.6 2283.2 C1864.7 2283.4 1867.3 2285.0 1869.7 2287.2 C1872.9 2290.1 1875.4 2295.0 1877.8 2300.2 C1880.9 2306.9 1883.4 2316.4 1885.9 2324.4 C1888.3 2332.1 1890.4 2338.8 1892.4 2347.1 C1894.8 2356.9 1896.8 2368.6 1898.9 2379.4 C1901.1 2390.2 1903.1 2401.3 1905.3 2411.8 C1907.4 2421.8 1909.5 2431.7 1911.8 2441.0 C1913.9 2449.5 1915.7 2457.4 1918.3 2465.2 C1920.9 2472.8 1924.4 2480.3 1927.4 2487.2 C1930.1 2493.5 1932.5 2499.3 1935.5 2505.0 C1938.4 2510.6 1941.6 2516.3 1945.2 2521.2 C1948.6 2525.9 1952.4 2530.4 1956.5 2534.1 C1960.5 2537.6 1964.6 2540.6 1969.4 2543.0 C1974.5 2545.6 1980.7 2546.8 1986.4 2548.7" stroke="#0070c0" stroke-width="3.6" fill="none" stroke-linejoin="round" stroke-linecap="round"/>
<path d="M574.0 2652.5 C582.7 2651.7 590.4 2651.0 600.0 2650.0 C611.9 2648.8 626.7 2647.1 640.0 2645.5 C653.3 2643.9 669.1 2642.4 680.0 2640.3 C687.7 2638.9 693.0 2637.4 699.4 2635.5 C705.9 2633.6 713.2 2632.2 718.8 2629.0 C723.9 2626.1 728.4 2622.5 731.8 2617.7 C735.6 2612.4 737.6 2605.2 739.9 2598.2 C742.5 2590.3 744.3 2581.5 746.3 2572.4 C748.6 2562.2 750.8 2550.6 752.8 2540.0 C754.7 2529.8 756.1 2520.0 758.0 2510.0 C760.0 2500.0 762.7 2491.5 764.5 2480.0 C766.9 2464.8 768.0 2443.1 769.9 2426.7 C771.5 2412.7 773.2 2400.8 774.8 2387.8 C776.4 2374.9 777.7 2361.0 779.6 2349.0 C781.3 2338.6 783.2 2328.6 785.4 2319.9 C787.2 2312.7 788.8 2305.6 791.3 2300.4 C793.2 2296.4 795.6 2290.7 797.7 2290.7 C799.8 2290.7 802.1 2296.5 803.9 2300.4 C806.3 2305.6 807.9 2312.2 809.7 2319.9 C812.2 2330.6 814.4 2345.8 816.5 2358.7 C818.6 2371.6 820.4 2384.6 822.3 2397.5 C824.3 2410.5 826.0 2423.1 828.2 2436.4 C830.5 2450.5 833.1 2466.0 836.0 2480.0 C838.7 2493.1 842.1 2507.1 845.0 2518.0 C847.2 2526.4 848.7 2533.0 851.5 2540.0 C854.2 2546.8 857.5 2553.0 861.2 2559.4 C865.0 2566.0 869.3 2572.8 874.2 2578.8 C879.0 2584.7 884.7 2591.3 890.3 2595.0 C894.9 2598.0 899.0 2599.0 904.6 2600.7 C912.2 2603.0 923.6 2607.6 932.0 2606.8 C939.6 2606.1 946.9 2600.7 953.0 2597.7 C957.9 2595.3 961.9 2591.3 966.0 2590.5 C969.2 2589.9 971.6 2591.1 975.0 2591.5 C979.3 2592.0 984.0 2594.2 989.6 2593.4 C998.1 2592.1 1010.4 2586.1 1020.0 2579.5 C1030.8 2572.0 1041.1 2559.9 1050.2 2549.2 C1059.2 2538.7 1067.7 2528.5 1074.5 2515.8 C1082.2 2501.6 1086.9 2484.4 1092.7 2467.2 C1099.1 2448.2 1104.8 2426.2 1111.0 2406.6 C1116.9 2387.9 1122.5 2368.6 1129.0 2352.0 C1134.7 2337.6 1140.3 2321.4 1147.3 2312.5 C1152.0 2306.6 1157.6 2300.1 1162.5 2300.4 C1167.7 2300.7 1173.0 2308.6 1177.7 2315.5 C1184.6 2325.6 1190.1 2342.8 1195.9 2358.0 C1202.3 2374.9 1207.0 2397.4 1214.0 2412.6 C1219.5 2424.6 1226.4 2432.3 1232.3 2443.0 C1238.6 2454.5 1243.4 2470.4 1250.5 2479.4 C1255.9 2486.3 1262.7 2490.3 1268.7 2494.5 C1273.9 2498.1 1279.3 2499.1 1283.9 2503.6 C1289.7 2509.3 1293.9 2518.9 1299.0 2528.0 C1305.0 2538.8 1309.7 2553.9 1317.2 2564.3 C1324.1 2573.9 1332.1 2583.6 1341.5 2588.6 C1350.4 2593.4 1361.6 2591.6 1371.9 2594.7 C1383.3 2598.1 1397.2 2604.1 1406.7 2608.9 C1413.8 2612.4 1418.4 2616.7 1424.5 2619.6 C1430.3 2622.3 1436.3 2624.0 1442.3 2625.8 C1448.2 2627.6 1454.1 2629.3 1460.1 2630.3 C1466.0 2631.3 1472.0 2631.7 1477.9 2632.0 C1483.8 2632.3 1489.8 2632.4 1495.7 2632.4 C1501.6 2632.4 1507.6 2632.2 1513.5 2631.7 C1519.4 2631.2 1526.0 2630.7 1531.3 2629.4 C1535.9 2628.3 1540.4 2627.1 1543.8 2624.9 C1546.8 2623.0 1548.8 2620.4 1550.9 2617.8 C1553.0 2615.1 1554.7 2611.9 1556.2 2608.9 C1557.6 2606.0 1558.6 2603.3 1559.8 2600.0 C1561.2 2595.9 1562.9 2591.3 1564.0 2586.0 C1565.4 2579.2 1565.9 2570.5 1566.8 2562.4 C1567.7 2554.0 1568.6 2545.1 1569.4 2536.5 C1570.1 2527.9 1570.7 2520.1 1571.3 2510.6 C1572.0 2499.0 1572.6 2484.1 1573.3 2471.8 C1573.9 2460.7 1574.4 2451.0 1575.2 2440.0 C1576.0 2428.1 1577.4 2416.6 1578.2 2402.7 C1579.3 2384.9 1579.9 2362.2 1580.7 2342.0 C1581.5 2321.8 1582.3 2298.3 1583.1 2281.4 C1583.7 2269.2 1584.4 2261.5 1584.9 2250.0 C1585.5 2235.8 1585.6 2219.4 1586.1 2202.7 C1586.7 2183.7 1587.7 2162.2 1588.5 2142.0 C1589.3 2121.8 1590.2 2101.6 1591.0 2081.4 C1591.8 2061.2 1592.6 2039.5 1593.4 2020.7 C1594.1 2004.4 1594.8 1989.7 1595.6 1975.0 C1596.3 1961.2 1597.2 1948.2 1598.0 1935.0 C1598.8 1922.2 1599.6 1909.4 1600.5 1897.0 C1601.4 1885.1 1602.2 1872.5 1603.5 1862.0 C1604.6 1853.2 1605.6 1844.0 1607.3 1838.0 C1608.4 1834.2 1609.4 1829.4 1611.0 1829.0 C1612.3 1828.7 1614.4 1831.2 1615.8 1833.2 C1617.8 1836.0 1619.0 1841.7 1620.7 1845.3 C1622.2 1848.4 1623.5 1851.4 1625.5 1853.8 C1627.5 1856.2 1630.8 1857.4 1632.8 1859.9 C1634.9 1862.6 1636.2 1865.8 1637.7 1869.6 C1639.6 1874.4 1641.1 1880.5 1642.5 1886.6 C1644.0 1893.4 1645.0 1900.9 1646.2 1908.4 C1647.5 1916.3 1648.6 1924.6 1649.8 1932.7 C1651.0 1940.8 1652.2 1949.5 1653.4 1957.0 C1654.4 1963.5 1655.4 1969.2 1656.5 1975.0 C1657.5 1980.3 1658.4 1984.3 1659.5 1990.3 C1661.0 1998.7 1662.8 2010.6 1664.4 2020.7 C1666.0 2030.8 1667.6 2040.9 1669.2 2051.0 C1670.8 2061.1 1672.5 2071.3 1674.1 2081.4 C1675.7 2091.5 1677.3 2102.2 1679.0 2111.7 C1680.5 2120.3 1682.1 2128.2 1683.8 2136.0 C1685.3 2143.2 1687.0 2149.8 1688.6 2156.6 C1690.2 2163.2 1691.9 2169.4 1693.5 2176.0 C1695.2 2182.8 1696.5 2190.8 1698.4 2196.7 C1699.9 2201.3 1701.2 2204.9 1703.2 2208.8 C1705.3 2212.8 1707.3 2217.3 1710.7 2220.4 C1714.4 2223.7 1720.9 2223.9 1725.1 2227.5 C1729.8 2231.5 1733.4 2237.6 1737.0 2244.3 C1741.6 2252.9 1744.9 2265.3 1749.0 2275.4 C1752.9 2285.2 1756.8 2297.2 1761.0 2304.2 C1763.7 2308.8 1766.5 2311.0 1769.4 2314.7 C1772.6 2318.8 1776.2 2323.0 1779.1 2327.7 C1782.2 2332.7 1784.8 2338.1 1787.2 2343.8 C1789.7 2349.9 1791.4 2356.5 1793.7 2363.3 C1796.2 2370.9 1799.0 2379.9 1801.8 2387.5 C1804.4 2394.4 1806.2 2402.1 1809.9 2407.0 C1813.0 2411.0 1817.1 2415.3 1821.2 2415.8 C1825.2 2416.3 1830.1 2413.1 1834.1 2410.2 C1838.8 2406.8 1843.0 2398.7 1847.1 2395.6 C1849.9 2393.5 1852.4 2391.6 1855.2 2391.6 C1858.3 2391.6 1862.2 2393.7 1864.9 2396.4 C1868.4 2399.8 1870.7 2406.3 1873.0 2411.8 C1875.5 2417.8 1877.4 2424.2 1879.4 2431.2 C1881.7 2439.2 1883.8 2448.3 1885.9 2457.1 C1888.1 2466.1 1890.3 2475.3 1892.4 2484.6 C1894.6 2494.2 1896.5 2503.2 1898.9 2513.7 C1901.7 2526.0 1905.1 2542.0 1908.0 2553.6 C1910.2 2562.7 1911.9 2570.1 1914.4 2577.8 C1916.8 2585.1 1919.4 2592.3 1922.5 2598.9 C1925.4 2605.2 1928.5 2611.4 1932.2 2616.7 C1935.6 2621.6 1939.4 2625.9 1943.6 2629.6 C1947.6 2633.1 1952.1 2636.2 1956.5 2638.5 C1960.7 2640.7 1964.7 2642.1 1969.4 2643.4 C1974.6 2644.9 1980.7 2645.5 1986.4 2646.6" stroke="#ff0000" stroke-width="3.6" fill="none" stroke-linejoin="round" stroke-linecap="round"/>
<path d="M565.0 2751.5 C585.0 2750.2 605.5 2749.4 625.0 2747.5 C643.8 2745.7 666.4 2743.7 680.0 2740.6 C688.2 2738.7 693.0 2736.8 699.4 2734.2 C706.0 2731.5 712.9 2728.7 718.8 2724.5 C724.8 2720.2 730.3 2714.5 735.0 2708.3 C740.1 2701.7 744.0 2694.2 748.0 2685.6 C752.8 2675.2 757.1 2661.9 760.9 2650.0 C764.6 2638.2 767.7 2624.9 770.6 2614.4 C773.0 2606.0 774.9 2597.8 777.1 2591.8 C778.7 2587.6 779.7 2582.1 781.9 2581.4 C783.7 2580.9 786.4 2583.0 788.4 2585.3 C791.7 2589.1 793.5 2597.4 796.5 2604.7 C800.3 2614.1 805.0 2626.5 809.4 2637.0 C813.6 2647.0 817.8 2657.2 822.4 2666.2 C826.5 2674.4 830.4 2681.8 835.3 2688.9 C840.1 2695.9 845.6 2703.6 851.5 2708.3 C856.5 2712.3 861.7 2714.7 867.7 2716.4 C874.4 2718.2 882.8 2718.5 890.3 2718.0 C897.9 2717.5 905.9 2715.6 913.0 2713.1 C919.9 2710.7 926.3 2707.0 932.4 2703.4 C938.2 2700.0 943.1 2695.6 948.6 2692.1 C954.0 2688.7 960.4 2683.0 965.3 2682.6 C968.9 2682.3 971.4 2685.0 975.0 2686.0 C979.3 2687.2 984.3 2689.5 989.6 2688.7 C996.8 2687.7 1006.0 2681.8 1013.8 2676.6 C1022.3 2670.9 1030.3 2663.4 1038.1 2655.3 C1046.6 2646.4 1054.7 2636.3 1062.4 2625.0 C1071.0 2612.3 1079.5 2596.9 1086.7 2582.5 C1093.7 2568.5 1099.0 2554.7 1104.9 2540.0 C1111.1 2524.4 1116.8 2507.1 1123.0 2491.5 C1128.9 2476.8 1133.8 2459.0 1141.3 2449.0 C1146.7 2441.8 1153.6 2433.6 1159.5 2433.9 C1165.7 2434.2 1172.2 2444.2 1177.7 2452.0 C1184.8 2462.2 1189.9 2478.0 1195.9 2491.5 C1202.0 2505.4 1207.1 2523.9 1214.0 2534.0 C1218.7 2540.9 1224.5 2543.1 1229.3 2549.0 C1234.8 2555.9 1238.4 2568.4 1244.4 2573.4 C1248.9 2577.2 1254.4 2578.5 1259.6 2579.5 C1264.6 2580.5 1270.3 2577.2 1274.8 2579.5 C1280.8 2582.6 1285.3 2592.6 1290.0 2600.7 C1295.5 2610.3 1299.4 2623.3 1305.0 2634.0 C1310.5 2644.5 1315.4 2657.8 1323.3 2664.4 C1330.1 2670.0 1339.4 2672.0 1347.6 2673.5 C1355.6 2674.9 1364.0 2671.1 1371.9 2673.5 C1380.8 2676.2 1390.2 2684.9 1397.8 2690.8 C1404.5 2696.0 1409.5 2702.1 1415.6 2706.8 C1421.4 2711.2 1427.3 2715.2 1433.4 2718.4 C1439.2 2721.4 1445.2 2723.6 1451.2 2725.5 C1457.1 2727.3 1463.0 2728.6 1469.0 2729.6 C1474.9 2730.6 1480.9 2731.1 1486.8 2731.4 C1492.7 2731.7 1498.7 2731.7 1504.6 2731.7 C1510.5 2731.7 1516.8 2731.9 1522.4 2731.4 C1527.4 2730.9 1532.5 2730.3 1536.6 2729.0 C1540.0 2727.9 1542.8 2726.5 1545.5 2724.6 C1548.2 2722.7 1550.6 2720.3 1552.6 2717.5 C1554.8 2714.4 1556.5 2710.9 1558.0 2706.8 C1559.9 2701.7 1561.1 2695.6 1562.4 2689.0 C1563.9 2681.0 1564.9 2671.2 1566.0 2662.3 C1567.0 2653.4 1567.8 2644.5 1568.7 2635.6 C1569.6 2626.7 1570.4 2617.6 1571.3 2608.9 C1572.2 2600.7 1573.1 2593.1 1574.0 2585.0 C1574.9 2576.8 1575.8 2569.1 1576.5 2560.0 C1577.3 2549.3 1577.5 2536.2 1578.1 2524.7 C1578.7 2513.7 1579.5 2503.2 1580.1 2492.4 C1580.7 2481.6 1581.1 2472.3 1581.7 2460.0 C1582.5 2443.6 1583.6 2422.1 1584.3 2402.7 C1585.0 2382.8 1585.5 2362.2 1586.1 2342.0 C1586.7 2321.8 1587.2 2299.7 1588.0 2281.4 C1588.7 2266.3 1589.6 2254.4 1590.5 2240.0 C1591.4 2224.3 1592.5 2207.0 1593.4 2190.6 C1594.3 2174.3 1595.0 2158.2 1595.8 2142.0 C1596.6 2125.8 1597.3 2108.5 1598.2 2093.5 C1599.0 2080.5 1599.8 2068.0 1600.7 2057.1 C1601.4 2048.2 1602.2 2040.3 1603.1 2032.8 C1603.9 2026.3 1604.5 2019.9 1605.5 2014.6 C1606.2 2010.5 1606.4 2005.9 1608.0 2003.7 C1609.1 2002.3 1610.5 2001.7 1612.2 2001.3 C1614.2 2000.8 1617.4 2002.4 1619.5 2001.3 C1622.1 1999.9 1623.7 1995.1 1625.5 1991.6 C1627.4 1987.8 1628.4 1982.9 1630.4 1979.4 C1632.1 1976.3 1634.4 1971.7 1636.5 1971.5 C1638.4 1971.3 1641.0 1974.5 1642.5 1977.0 C1644.5 1980.3 1645.1 1985.2 1646.2 1990.3 C1647.7 1997.2 1648.6 2006.5 1649.8 2014.6 C1651.0 2022.7 1652.2 2030.8 1653.4 2038.9 C1654.6 2047.0 1655.9 2055.1 1657.1 2063.2 C1658.3 2071.3 1659.5 2078.9 1660.7 2087.4 C1662.0 2096.9 1663.1 2107.2 1664.4 2117.8 C1665.9 2129.4 1667.5 2142.6 1669.2 2154.2 C1670.8 2164.8 1672.5 2174.4 1674.1 2184.5 C1675.7 2194.6 1677.4 2204.8 1679.0 2214.9 C1680.6 2225.0 1682.2 2235.8 1683.8 2245.2 C1685.2 2253.3 1686.4 2258.9 1688.0 2268.0 C1690.4 2281.5 1692.7 2303.0 1696.4 2318.6 C1699.7 2332.4 1702.9 2347.2 1708.3 2356.9 C1712.3 2364.1 1717.7 2368.7 1722.7 2373.6 C1727.3 2378.1 1732.8 2380.7 1737.0 2385.6 C1741.7 2391.0 1744.7 2398.5 1749.0 2404.8 C1753.5 2411.3 1758.1 2419.0 1763.4 2424.0 C1767.9 2428.2 1773.8 2429.5 1777.8 2433.5 C1781.8 2437.5 1784.5 2442.1 1787.4 2447.9 C1791.2 2455.6 1793.6 2466.7 1797.0 2476.6 C1800.7 2487.4 1804.3 2500.2 1809.0 2510.2 C1813.2 2519.0 1817.8 2527.3 1823.3 2534.0 C1828.3 2540.0 1835.0 2545.2 1840.0 2549.0 C1843.5 2551.7 1846.7 2552.8 1849.7 2555.2 C1852.7 2557.6 1855.3 2560.1 1857.8 2563.3 C1860.7 2567.0 1863.4 2571.3 1865.9 2576.2 C1868.9 2581.9 1871.4 2588.7 1874.0 2595.6 C1876.8 2603.2 1879.4 2611.8 1882.1 2619.9 C1884.8 2628.0 1887.5 2636.1 1890.2 2644.2 C1892.9 2652.3 1895.4 2660.6 1898.2 2668.4 C1900.8 2675.7 1903.2 2682.9 1906.3 2689.5 C1909.2 2695.8 1912.4 2701.8 1916.0 2707.3 C1919.5 2712.5 1923.2 2717.7 1927.4 2721.8 C1931.3 2725.7 1935.5 2729.0 1940.3 2731.5 C1945.2 2734.1 1951.0 2735.7 1956.5 2737.2 C1961.8 2738.7 1967.5 2739.6 1972.7 2740.4 C1977.4 2741.1 1981.8 2741.5 1986.4 2742.0" stroke="#000000" stroke-width="3.6" fill="none" stroke-linejoin="round" stroke-linecap="round"/>
<line x1="1041.6" y1="2323.2" x2="1039.3" y2="2357.2" stroke="#000" stroke-width="5.5"/>
<line x1="58.0" y1="1530.0" x2="58.0" y2="2760.0" stroke="#000" stroke-width="6.0"/>
<line x1="55.0" y1="2757.5" x2="494.0" y2="2757.5" stroke="#000" stroke-width="5.0"/>
<line x1="522.5" y1="2757.5" x2="2005.0" y2="2757.5" stroke="#000" stroke-width="5.0"/>
<path d="M514.0 2502.5 C510.2 2510.0 504.9 2516.4 502.5 2525.0 C499.7 2535.1 499.2 2547.4 500.0 2560.0 C501.0 2575.2 506.5 2594.3 510.0 2610.0 C513.2 2624.1 519.0 2637.5 520.0 2650.0 C520.9 2660.6 519.7 2668.4 517.5 2680.0 C514.4 2696.7 506.9 2722.3 500.0 2740.0 C494.1 2755.0 486.6 2766.1 480.0 2780.0 C473.0 2794.7 466.0 2810.7 459.0 2826.0" stroke="#000000" stroke-width="5.0" fill="none" stroke-linecap="butt"/>
<path d="M559.0 2505.0 C555.2 2511.7 550.0 2517.1 547.5 2525.0 C544.4 2534.8 543.6 2547.3 544.0 2560.0 C544.5 2575.2 548.7 2594.4 552.5 2610.0 C555.9 2624.2 563.6 2637.5 565.0 2650.0 C566.2 2660.6 564.7 2668.4 562.5 2680.0 C559.4 2696.7 551.9 2722.3 545.0 2740.0 C539.1 2755.0 531.6 2766.0 525.0 2780.0 C517.9 2795.1 511.0 2811.7 504.0 2827.5" stroke="#000000" stroke-width="5.0" fill="none" stroke-linecap="butt"/>
<line x1="86.0" y1="2757.5" x2="86.0" y2="2769.0" stroke="#000" stroke-width="4.5"/>
<line x1="292.5" y1="2757.5" x2="292.5" y2="2769.0" stroke="#000" stroke-width="4.5"/>
<line x1="564.5" y1="2757.5" x2="564.5" y2="2769.0" stroke="#000" stroke-width="4.5"/>
<line x1="770.0" y1="2757.5" x2="770.0" y2="2769.0" stroke="#000" stroke-width="4.5"/>
<line x1="974.0" y1="2757.5" x2="974.0" y2="2769.0" stroke="#000" stroke-width="4.5"/>
<line x1="1179.0" y1="2757.5" x2="1179.0" y2="2769.0" stroke="#000" stroke-width="4.5"/>
<line x1="1382.5" y1="2757.5" x2="1382.5" y2="2769.0" stroke="#000" stroke-width="4.5"/>
<line x1="1587.5" y1="2757.5" x2="1587.5" y2="2769.0" stroke="#000" stroke-width="4.5"/>
<line x1="1792.5" y1="2757.5" x2="1792.5" y2="2769.0" stroke="#000" stroke-width="4.5"/>
<line x1="1997.5" y1="2757.5" x2="1997.5" y2="2769.0" stroke="#000" stroke-width="4.5"/>
<line x1="283.0" y1="2167.5" x2="283.0" y2="2196.0" stroke="#000" stroke-width="6.0"/>
<line x1="277.5" y1="2364.0" x2="277.5" y2="2392.5" stroke="#000" stroke-width="5.5"/>
<line x1="237.5" y1="2432.5" x2="237.5" y2="2456.0" stroke="#000" stroke-width="5.5"/>
<line x1="327.5" y1="2460.0" x2="327.5" y2="2484.0" stroke="#000" stroke-width="5.5"/>
<line x1="803.0" y1="1951.5" x2="803.0" y2="1979.0" stroke="#000" stroke-width="5.5"/>
<line x1="797.7" y1="2261.6" x2="797.7" y2="2283.0" stroke="#000" stroke-width="5.5"/>
<line x1="782.7" y1="2532.5" x2="782.7" y2="2562.7" stroke="#000" stroke-width="5.5"/>
<line x1="941.5" y1="2387.5" x2="941.5" y2="2414.0" stroke="#000" stroke-width="5.5"/>
<line x1="966.4" y1="2548.0" x2="966.4" y2="2573.0" stroke="#000" stroke-width="5.5"/>
<line x1="964.8" y1="2660.4" x2="964.8" y2="2675.3" stroke="#000" stroke-width="5.5"/>
<line x1="1166.0" y1="2025.0" x2="1166.0" y2="2064.0" stroke="#000" stroke-width="5.5"/>
<line x1="1163.5" y1="2271.5" x2="1163.5" y2="2291.5" stroke="#000" stroke-width="5.5"/>
<line x1="1278.5" y1="2306.5" x2="1278.5" y2="2335.0" stroke="#000" stroke-width="5.5"/>
<line x1="1239.0" y1="2417.5" x2="1239.0" y2="2435.0" stroke="#000" stroke-width="5.5"/>
<line x1="1284.0" y1="2476.0" x2="1284.0" y2="2492.5" stroke="#000" stroke-width="5.5"/>
<line x1="1275.0" y1="2557.5" x2="1275.0" y2="2575.0" stroke="#000" stroke-width="5.5"/>
<line x1="1387.5" y1="2570.0" x2="1387.5" y2="2591.0" stroke="#000" stroke-width="5.5"/>
<line x1="1374.0" y1="2649.0" x2="1374.0" y2="2667.5" stroke="#000" stroke-width="5.5"/>
<line x1="1608.2" y1="1701.0" x2="1608.2" y2="1718.5" stroke="#000" stroke-width="5.5"/>
<line x1="1636.5" y1="1672.5" x2="1636.5" y2="1693.5" stroke="#000" stroke-width="5.5"/>
<line x1="1610.7" y1="1973.3" x2="1610.7" y2="1991.6" stroke="#000" stroke-width="5.5"/>
<line x1="1636.5" y1="1948.5" x2="1636.5" y2="1961.0" stroke="#000" stroke-width="5.5"/>
<line x1="1740.2" y1="2031.6" x2="1740.2" y2="2057.4" stroke="#000" stroke-width="5.5"/>
<line x1="1785.0" y1="2112.5" x2="1785.0" y2="2134.3" stroke="#000" stroke-width="5.5"/>
<line x1="1862.0" y1="2257.3" x2="1862.0" y2="2275.0" stroke="#000" stroke-width="5.5"/>
<line x1="1731.0" y1="2201.4" x2="1731.0" y2="2222.5" stroke="#000" stroke-width="5.5"/>
<line x1="1786.9" y1="2306.6" x2="1786.9" y2="2324.4" stroke="#000" stroke-width="5.5"/>
<line x1="1856.0" y1="2353.6" x2="1856.0" y2="2381.9" stroke="#000" stroke-width="5.5"/>
<line x1="1737.5" y1="2361.5" x2="1737.5" y2="2380.0" stroke="#000" stroke-width="5.5"/>
<line x1="1781.6" y1="2409.4" x2="1781.6" y2="2428.8" stroke="#000" stroke-width="5.5"/>
<line x1="1856.0" y1="2522.6" x2="1856.0" y2="2550.0" stroke="#000" stroke-width="5.5"/>
<line x1="202.5" y1="2280.0" x2="275.0" y2="2362.0" stroke="#000" stroke-width="2"/>
<line x1="175.0" y1="2371.5" x2="237.5" y2="2432.5" stroke="#000" stroke-width="2"/>
<line x1="397.5" y1="2395.0" x2="327.5" y2="2460.0" stroke="#000" stroke-width="2"/>
<line x1="700.0" y1="2175.2" x2="798.0" y2="2259.7" stroke="#000" stroke-width="2"/>
<line x1="632.5" y1="2379.0" x2="782.5" y2="2531.0" stroke="#000" stroke-width="2"/>
<line x1="1356.5" y1="2260.0" x2="1240.0" y2="2416.0" stroke="#000" stroke-width="2"/>
<line x1="1335.0" y1="2391.0" x2="1283.0" y2="2476.0" stroke="#000" stroke-width="2"/>
<path d="M131.5 1884.5 H121.5 V2070.5 H131.5" stroke="#000" stroke-width="5.5" fill="none"/>
<path d="M617.0 1873.0 H607.0 V2059.0 H617.0" stroke="#000" stroke-width="5.5" fill="none"/>
<circle cx="448.5" cy="2532.5" r="20.5" stroke="#000" stroke-width="3" fill="none"/>
<text x="448.5" y="2547.5" class="c">3</text>
<circle cx="450.0" cy="2628.5" r="20.5" stroke="#000" stroke-width="3" fill="none"/>
<text x="450.0" y="2643.5" class="c">2</text>
<circle cx="446.5" cy="2719.0" r="20.5" stroke="#000" stroke-width="3" fill="none"/>
<text x="446.5" y="2734.0" class="c">1</text>
<text x="284.2" y="2151.5" class="a">2352</text>
<text x="197.8" y="2268.5" class="a">2352</text>
<text x="163.8" y="2358.5" class="a">2362</text>
<text x="416.5" y="2381.0" class="a">2341</text>
<text x="182.5" y="1997.5" class="a">0.05</text>
<text x="667.0" y="1986.0" class="a">0.05</text>
<text x="785.2" y="1934.0" class="a">2192</text>
<text x="674.2" y="2159.0" class="a">2193</text>
<text x="638.8" y="2372.5" class="a">2197</text>
<text x="940.8" y="2375.0" class="a">2158</text>
<text x="1022.0" y="2307.5" class="a">2133</text>
<text x="963.8" y="2527.5" class="a">2152</text>
<text x="973.1" y="2651.6" class="a">2152</text>
<text x="1155.0" y="2007.5" class="a">2103</text>
<text x="1162.0" y="2265.0" class="a">2104</text>
<text x="1280.8" y="2296.0" class="a">2078</text>
<text x="1388.0" y="2250.0" class="a">2087</text>
<text x="1367.0" y="2379.0" class="a">2076</text>
<text x="1421.2" y="2565.0" class="a">2052</text>
<text x="1435.0" y="2666.0" class="a">2048</text>
<text x="1574.8" y="1689.0" class="a">1995</text>
<text x="1671.0" y="1659.0" class="a">1987</text>
<text x="1773.5" y="2019.0" class="a">1963</text>
<text x="1819.0" y="2096.0" class="a">1952</text>
<text x="1896.5" y="2237.5" class="a">1935</text>
<text x="1912.8" y="1781.0" class="L">B</text>
<text x="87.0" y="1592.0" class="w">F(R)</text>
<text x="196.0" y="1592.0" class="w">KMU</text>
<text x="1549.0" y="2890.0" class="w">wavenumber&#160; cm-1</text>
<text x="96.2" y="2812.5" class="a">2400</text>
<text x="772.2" y="2817.5" class="a">2200</text>
<text x="1183.2" y="2817.5" class="a">2100</text>
<text x="1587.0" y="2817.5" class="a">2000</text>
<text x="1980.2" y="2817.5" class="a">1900</text>
<path d="M82.0 4058.7 C109.3 4058.3 149.2 4060.4 164.0 4057.5 C169.8 4056.4 172.1 4054.8 175.6 4053.0 C178.7 4051.4 180.8 4048.1 184.0 4047.4 C187.4 4046.6 191.8 4049.8 195.4 4049.0 C199.3 4048.1 203.1 4044.6 206.7 4041.7 C210.6 4038.5 214.6 4035.3 218.0 4030.4 C222.5 4023.9 225.9 4014.5 229.4 4004.9 C233.6 3993.3 236.8 3977.9 240.7 3965.2 C244.3 3953.4 247.5 3940.4 252.0 3931.2 C255.4 3924.3 259.4 3918.1 263.3 3914.2 C266.1 3911.4 268.5 3909.1 271.8 3908.6 C275.8 3908.0 281.4 3910.9 286.0 3913.1 C290.9 3915.5 296.0 3918.4 300.0 3922.8 C304.7 3927.9 308.0 3934.9 311.5 3942.6 C315.8 3952.2 319.2 3964.8 322.8 3976.6 C326.7 3989.3 329.5 4005.5 334.0 4016.2 C337.4 4024.2 340.6 4030.3 345.4 4036.0 C350.1 4041.6 355.9 4046.7 362.4 4050.2 C369.1 4053.8 375.2 4055.4 385.0 4057.0 C402.4 4059.8 434.1 4058.1 458.7 4058.7" stroke="#0070c0" stroke-width="3.6" fill="none" stroke-linejoin="round" stroke-linecap="round"/>
<path d="M82.0 4125.0 C109.3 4124.6 145.1 4125.5 164.0 4123.8 C174.1 4122.9 180.4 4121.8 187.0 4119.9 C192.3 4118.4 196.6 4116.0 201.0 4114.2 C205.0 4112.6 209.0 4112.6 212.4 4109.7 C217.0 4105.7 220.3 4097.8 223.7 4089.8 C228.2 4079.1 231.2 4063.4 235.0 4050.2 C238.8 4037.0 241.6 4020.7 246.3 4010.5 C249.6 4003.3 253.8 3996.6 257.7 3993.5 C260.1 3991.6 262.3 3990.6 265.0 3990.7 C268.6 3990.8 273.0 3994.3 277.5 3996.4 C282.8 3998.9 289.8 4000.8 294.5 4004.9 C299.3 4009.2 302.4 4015.0 305.8 4021.9 C310.3 4031.1 312.9 4044.9 317.2 4055.9 C321.4 4066.6 325.8 4079.0 331.3 4087.0 C335.5 4093.1 340.4 4096.6 345.4 4101.2 C350.7 4106.0 356.0 4111.6 362.4 4115.3 C369.1 4119.2 375.1 4121.9 385.0 4123.8 C402.3 4127.2 434.1 4124.9 458.7 4125.5" stroke="#ff0000" stroke-width="3.6" fill="none" stroke-linejoin="round" stroke-linecap="round"/>
<path d="M82.0 4186.0 C109.3 4185.7 145.2 4188.1 164.0 4185.0 C174.2 4183.3 179.8 4180.7 187.0 4177.5 C194.0 4174.4 201.2 4170.1 206.7 4166.0 C211.2 4162.6 214.6 4159.8 218.0 4155.0 C222.5 4148.6 225.8 4138.7 229.4 4129.5 C233.5 4119.1 236.5 4105.6 240.7 4095.5 C244.2 4087.0 247.5 4078.2 252.0 4072.8 C255.4 4068.8 259.1 4064.8 263.3 4064.3 C267.6 4063.7 272.6 4067.8 277.5 4070.0 C283.0 4072.4 289.7 4074.9 294.5 4078.4 C299.0 4081.6 302.4 4085.0 305.8 4089.8 C310.1 4095.8 313.6 4104.4 317.2 4112.4 C321.2 4121.2 324.2 4132.7 328.5 4140.8 C332.0 4147.4 335.4 4152.7 340.0 4157.8 C344.8 4163.1 351.0 4167.9 356.8 4172.0 C362.3 4175.9 367.5 4179.8 373.8 4182.0 C380.6 4184.3 387.3 4184.3 396.4 4185.0 C410.0 4186.0 430.4 4185.7 447.4 4186.0" stroke="#000000" stroke-width="3.6" fill="none" stroke-linejoin="round" stroke-linecap="round"/>
<path d="M547.5 4058.0 C565.0 4058.0 586.6 4058.0 600.0 4058.0 C608.2 4058.0 612.9 4058.4 620.0 4058.0 C628.1 4057.6 638.1 4057.6 645.9 4055.3 C653.0 4053.2 659.5 4050.2 665.3 4045.6 C671.5 4040.7 676.2 4033.0 681.5 4026.2 C687.0 4019.1 692.4 4010.2 697.7 4003.6 C702.1 3998.1 706.1 3992.3 710.6 3989.0 C714.2 3986.4 718.1 3984.1 721.9 3984.1 C725.7 3984.1 729.5 3987.0 733.3 3989.0 C737.5 3991.2 742.1 3995.1 746.2 3997.0 C749.6 3998.6 752.2 3999.9 755.9 4000.3 C760.6 4000.8 766.6 4000.1 772.1 3998.7 C778.4 3997.1 785.1 3993.0 791.5 3990.6 C797.5 3988.4 803.6 3984.9 809.3 3984.8 C814.4 3984.7 819.0 3987.1 823.9 3989.0 C829.2 3991.1 834.6 3994.3 840.0 3997.0 C845.4 3999.7 850.6 4003.0 856.2 4005.2 C861.9 4007.4 868.1 4010.0 874.0 4010.0 C879.9 4010.0 886.0 4007.9 891.8 4005.2 C898.4 4002.2 904.9 3997.1 911.2 3992.2 C917.9 3986.9 924.8 3981.0 930.7 3974.4 C936.7 3967.6 941.9 3959.7 946.8 3951.8 C951.7 3943.8 956.0 3936.4 960.0 3926.5 C965.1 3913.8 968.7 3896.3 973.0 3881.2 C977.3 3866.1 981.5 3850.7 985.9 3835.9 C990.1 3821.6 994.8 3804.4 998.8 3793.8 C1001.3 3787.2 1003.1 3781.8 1006.0 3778.0 C1008.2 3775.1 1011.0 3771.8 1013.4 3771.8 C1015.6 3771.8 1018.0 3774.5 1020.0 3777.0 C1023.0 3780.8 1025.3 3786.8 1028.0 3793.8 C1032.2 3804.5 1036.7 3821.3 1040.9 3835.9 C1045.4 3851.5 1049.2 3869.3 1053.8 3884.5 C1057.9 3898.2 1061.3 3912.4 1066.8 3923.3 C1071.4 3932.3 1076.9 3939.4 1083.0 3946.0 C1088.8 3952.3 1096.3 3956.6 1102.4 3962.1 C1108.2 3967.4 1113.5 3972.2 1118.6 3978.3 C1124.3 3985.0 1129.0 3993.2 1134.7 4001.0 C1140.8 4009.4 1147.3 4019.3 1154.2 4026.8 C1160.4 4033.6 1166.5 4040.0 1173.6 4044.6 C1180.5 4049.1 1188.0 4052.1 1196.2 4054.3 C1205.2 4056.7 1217.3 4057.1 1225.4 4057.6 C1231.1 4057.9 1234.6 4057.6 1240.0 4057.6 C1246.6 4057.6 1257.0 4058.1 1262.3 4057.6 C1265.3 4057.3 1267.2 4056.9 1269.4 4056.2 C1271.4 4055.5 1273.4 4054.9 1275.1 4053.5 C1277.1 4051.8 1278.9 4049.1 1280.5 4046.4 C1282.3 4043.3 1283.6 4039.3 1284.9 4035.7 C1286.2 4032.2 1287.4 4028.6 1288.5 4025.0 C1289.5 4021.5 1290.3 4017.8 1291.2 4014.3 C1292.1 4011.0 1292.9 4007.9 1293.8 4004.6 C1294.7 4001.1 1295.4 3997.4 1296.5 3993.9 C1297.5 3990.5 1298.8 3987.3 1300.0 3984.1 C1301.2 3981.0 1302.4 3978.1 1303.6 3975.2 C1304.8 3972.5 1305.8 3969.5 1307.2 3967.2 C1308.5 3965.1 1310.0 3963.4 1311.6 3961.8 C1313.2 3960.2 1315.4 3959.0 1317.0 3957.4 C1318.6 3955.8 1320.1 3954.1 1321.4 3952.0 C1322.8 3949.7 1324.0 3946.8 1325.0 3944.0 C1326.1 3941.1 1326.8 3938.1 1327.6 3935.1 C1328.4 3931.9 1329.3 3928.6 1329.9 3925.3 C1330.6 3921.9 1330.9 3919.5 1331.5 3915.0 C1332.6 3906.4 1333.8 3889.2 1334.9 3877.1 C1335.9 3865.9 1336.8 3855.5 1337.7 3844.7 C1338.6 3833.9 1339.4 3823.2 1340.2 3812.4 C1341.0 3801.6 1341.8 3793.2 1342.6 3780.0 C1343.8 3759.2 1345.0 3724.8 1346.2 3699.4 C1347.3 3676.6 1348.4 3655.8 1349.4 3634.7 C1350.4 3614.4 1351.5 3593.0 1352.2 3575.0 C1352.8 3560.1 1352.9 3547.6 1353.4 3534.2 C1353.9 3521.1 1354.4 3508.3 1355.0 3495.3 C1355.6 3482.4 1356.3 3469.4 1356.9 3456.5 C1357.5 3443.6 1358.2 3430.6 1358.8 3417.7 C1359.5 3404.7 1360.2 3391.8 1360.8 3378.8 C1361.3 3365.9 1361.5 3353.5 1362.1 3340.0 C1362.8 3325.4 1363.9 3307.3 1364.7 3294.2 C1365.3 3284.3 1365.7 3276.9 1366.3 3268.3 C1366.9 3259.7 1367.7 3251.0 1368.5 3242.4 C1369.3 3233.8 1370.2 3225.1 1371.1 3216.5 C1372.0 3207.9 1372.6 3199.2 1373.7 3190.6 C1374.8 3182.0 1376.1 3172.7 1377.6 3164.7 C1378.9 3157.7 1380.3 3151.2 1382.1 3145.3 C1383.6 3140.1 1385.0 3135.0 1387.3 3131.1 C1389.2 3127.9 1391.7 3123.3 1394.0 3123.3 C1396.3 3123.3 1399.1 3127.9 1400.9 3131.1 C1403.1 3134.9 1404.1 3140.0 1405.4 3145.3 C1407.0 3151.8 1408.1 3159.9 1409.3 3167.3 C1410.5 3174.9 1411.5 3182.6 1412.6 3190.6 C1413.7 3199.0 1414.8 3207.9 1415.8 3216.5 C1416.8 3225.1 1417.4 3233.8 1418.4 3242.4 C1419.4 3251.0 1420.6 3259.7 1421.6 3268.3 C1422.6 3276.9 1423.3 3285.6 1424.2 3294.2 C1425.1 3302.8 1426.0 3311.9 1426.8 3320.0 C1427.5 3327.1 1428.0 3332.9 1428.7 3340.0 C1429.5 3348.1 1430.2 3357.3 1431.3 3365.9 C1432.4 3374.5 1433.8 3383.8 1435.2 3391.8 C1436.4 3398.7 1437.6 3404.8 1439.1 3411.2 C1440.6 3417.7 1442.6 3424.1 1444.3 3430.6 C1446.0 3437.1 1447.7 3443.5 1449.4 3450.0 C1451.1 3456.5 1452.9 3463.0 1454.6 3469.5 C1456.3 3476.0 1458.2 3482.0 1459.8 3488.9 C1461.6 3496.7 1463.0 3505.6 1464.5 3514.0 C1466.0 3522.6 1467.5 3531.2 1468.8 3540.0 C1470.1 3549.1 1471.1 3558.8 1472.3 3568.0 C1473.4 3576.9 1474.3 3585.5 1475.6 3594.3 C1477.0 3603.4 1478.8 3613.1 1480.5 3621.8 C1482.0 3629.7 1483.6 3637.3 1485.3 3644.4 C1486.8 3650.7 1488.4 3656.0 1490.2 3662.2 C1492.2 3668.9 1494.3 3677.0 1496.7 3683.3 C1498.7 3688.6 1500.7 3694.6 1503.1 3697.8 C1504.6 3699.8 1506.2 3701.6 1508.0 3701.9 C1509.9 3702.2 1512.4 3700.9 1514.5 3699.4 C1517.3 3697.4 1519.9 3693.0 1522.5 3689.7 C1525.1 3686.5 1526.8 3682.8 1530.0 3680.0 C1533.6 3676.9 1539.1 3671.7 1543.7 3672.3 C1549.4 3673.1 1555.7 3682.4 1560.7 3689.3 C1566.5 3697.3 1570.6 3707.9 1575.2 3718.4 C1580.4 3730.3 1584.5 3743.6 1589.8 3757.2 C1595.7 3772.5 1602.7 3789.6 1609.2 3805.8 C1615.7 3822.0 1622.0 3838.6 1628.6 3854.3 C1634.9 3869.3 1641.2 3884.5 1648.0 3898.0 C1654.2 3910.2 1660.7 3924.0 1667.5 3932.0 C1672.2 3937.6 1676.4 3941.6 1682.0 3944.0 C1687.7 3946.5 1695.8 3943.8 1701.4 3946.5 C1707.2 3949.3 1711.6 3954.9 1716.0 3961.0 C1721.5 3968.7 1725.7 3980.3 1730.5 3990.0 C1735.3 3999.7 1739.9 4010.1 1745.0 4019.3 C1749.7 4027.9 1753.6 4037.4 1759.7 4043.6 C1765.2 4049.2 1772.6 4051.7 1779.0 4055.7" stroke="#0070c0" stroke-width="3.6" fill="none" stroke-linejoin="round" stroke-linecap="round"/>
<path d="M544.0 4127.5 C562.7 4127.5 586.0 4127.7 600.0 4127.5 C608.3 4127.4 612.9 4127.4 620.0 4127.0 C628.1 4126.6 637.7 4126.7 645.9 4124.9 C653.8 4123.2 661.6 4120.8 668.5 4116.8 C675.6 4112.7 681.7 4105.4 688.0 4100.6 C693.5 4096.4 698.8 4091.7 704.1 4089.3 C708.5 4087.3 712.5 4086.0 717.1 4086.1 C722.2 4086.2 727.4 4089.6 733.3 4090.9 C740.2 4092.4 748.8 4095.3 755.9 4094.2 C762.8 4093.1 769.0 4088.3 775.3 4084.5 C781.9 4080.6 788.4 4073.9 794.7 4070.9 C799.7 4068.5 804.4 4066.6 809.3 4066.7 C814.2 4066.8 819.1 4068.9 823.9 4071.5 C829.4 4074.5 834.2 4081.1 840.0 4084.5 C845.6 4087.8 851.9 4091.6 857.8 4091.6 C863.7 4091.6 869.6 4087.2 875.6 4084.5 C882.0 4081.6 888.1 4077.4 895.0 4074.7 C902.1 4071.9 911.1 4071.7 917.7 4068.3 C923.9 4065.1 928.9 4060.9 933.9 4055.3 C939.9 4048.5 945.4 4037.4 950.0 4029.4 C953.9 4022.7 956.6 4018.4 960.0 4010.6 C965.2 3998.9 970.8 3980.5 976.2 3965.4 C981.6 3950.3 986.9 3932.9 992.4 3920.0 C996.6 3910.0 1000.5 3899.1 1005.3 3894.2 C1008.2 3891.3 1011.5 3888.8 1014.4 3889.3 C1018.0 3889.9 1021.5 3895.5 1024.7 3900.6 C1029.5 3908.3 1033.7 3921.2 1037.7 3933.0 C1042.4 3946.7 1045.8 3965.0 1050.6 3978.3 C1054.6 3989.2 1058.1 3999.5 1063.5 4007.4 C1068.1 4014.1 1073.7 4019.3 1079.7 4023.6 C1085.6 4027.8 1093.0 4029.9 1099.1 4033.3 C1104.8 4036.4 1110.1 4039.0 1115.3 4043.0 C1121.0 4047.4 1126.2 4053.4 1131.5 4059.2 C1137.0 4065.3 1142.0 4071.9 1147.7 4078.6 C1153.9 4085.9 1160.3 4094.9 1167.1 4101.3 C1173.3 4107.1 1179.2 4112.1 1186.5 4115.8 C1194.2 4119.7 1203.5 4122.0 1212.4 4123.9 C1221.4 4125.8 1231.3 4126.4 1240.0 4127.0 C1247.8 4127.5 1256.6 4127.9 1262.3 4127.4 C1266.0 4127.1 1268.6 4126.7 1271.2 4125.7 C1273.5 4124.8 1275.6 4123.7 1277.4 4122.1 C1279.2 4120.5 1280.4 4118.2 1281.8 4115.9 C1283.4 4113.3 1285.0 4110.1 1286.3 4107.0 C1287.7 4103.9 1288.7 4100.6 1289.8 4097.2 C1291.0 4093.5 1292.2 4089.5 1293.4 4085.6 C1294.6 4081.5 1295.8 4077.3 1297.0 4073.1 C1298.2 4069.0 1299.5 4064.5 1300.5 4060.7 C1301.4 4057.5 1301.8 4054.9 1302.7 4051.7 C1303.7 4048.1 1305.1 4043.9 1306.3 4040.2 C1307.4 4036.8 1308.4 4033.1 1309.8 4030.4 C1310.9 4028.3 1311.9 4026.6 1313.4 4025.0 C1314.9 4023.3 1317.0 4022.4 1318.7 4020.6 C1320.6 4018.6 1322.6 4016.1 1324.1 4013.5 C1325.6 4010.8 1326.5 4007.9 1327.6 4004.6 C1328.9 4000.6 1330.2 3996.0 1331.2 3991.2 C1332.3 3985.7 1333.1 3979.3 1333.9 3973.4 C1334.6 3967.5 1335.1 3961.5 1335.7 3955.6 C1336.3 3949.7 1337.0 3943.7 1337.4 3937.8 C1337.8 3931.9 1338.0 3926.0 1338.3 3920.0 C1338.6 3913.9 1338.7 3908.0 1339.0 3901.4 C1339.4 3893.8 1340.0 3885.8 1340.6 3877.1 C1341.2 3867.1 1341.9 3855.5 1342.6 3844.7 C1343.3 3833.9 1344.3 3823.2 1345.0 3812.4 C1345.7 3801.6 1346.2 3791.4 1347.0 3780.0 C1347.9 3767.4 1348.9 3753.4 1350.0 3740.0 C1351.1 3726.5 1352.5 3714.5 1353.5 3699.4 C1354.8 3680.3 1355.8 3655.8 1356.7 3634.7 C1357.5 3614.4 1358.2 3593.0 1358.7 3575.0 C1359.1 3560.1 1359.0 3547.6 1359.5 3534.2 C1359.9 3521.1 1360.6 3508.3 1361.4 3495.3 C1362.1 3482.4 1363.1 3469.4 1364.0 3456.5 C1364.9 3443.6 1365.6 3430.6 1366.6 3417.7 C1367.6 3404.7 1368.8 3391.8 1369.8 3378.8 C1370.8 3365.9 1371.9 3350.8 1372.6 3340.0 C1373.1 3332.2 1373.3 3327.1 1373.9 3320.0 C1374.5 3311.9 1375.4 3302.8 1376.3 3294.2 C1377.2 3285.6 1378.3 3276.9 1379.5 3268.3 C1380.7 3259.7 1382.0 3250.7 1383.4 3242.4 C1384.7 3234.8 1385.2 3226.1 1387.3 3220.4 C1388.8 3216.3 1391.2 3210.7 1393.1 3210.7 C1395.1 3210.7 1397.5 3216.3 1399.0 3220.4 C1401.1 3226.1 1401.7 3234.8 1402.8 3242.4 C1404.0 3250.7 1405.0 3259.7 1406.1 3268.3 C1407.2 3276.9 1408.2 3285.6 1409.3 3294.2 C1410.4 3302.8 1411.7 3311.9 1412.6 3320.0 C1413.4 3327.1 1413.7 3332.2 1414.5 3340.0 C1415.6 3350.8 1417.1 3365.9 1418.4 3378.8 C1419.7 3391.8 1421.0 3404.7 1422.3 3417.7 C1423.6 3430.6 1424.8 3444.2 1426.1 3456.5 C1427.3 3467.8 1428.6 3478.7 1430.0 3488.9 C1431.2 3498.0 1432.5 3506.8 1433.9 3514.8 C1435.1 3521.7 1436.5 3527.6 1437.8 3534.2 C1439.2 3541.0 1440.5 3548.7 1442.0 3555.0 C1443.3 3560.4 1444.4 3564.4 1446.0 3570.0 C1448.0 3577.1 1450.5 3586.2 1453.0 3594.3 C1455.5 3602.4 1458.7 3610.1 1461.1 3618.5 C1463.6 3627.3 1465.4 3636.7 1467.5 3646.0 C1469.7 3655.6 1471.9 3665.2 1474.0 3675.2 C1476.2 3685.7 1478.4 3696.7 1480.5 3707.5 C1482.7 3718.3 1484.8 3729.1 1486.9 3739.9 C1489.1 3750.7 1491.1 3762.3 1493.4 3772.3 C1495.4 3781.0 1497.2 3790.1 1499.9 3796.5 C1501.8 3801.1 1503.6 3805.5 1506.4 3807.8 C1508.7 3809.6 1511.8 3810.6 1514.5 3810.3 C1517.7 3809.9 1521.1 3806.7 1524.2 3804.6 C1527.3 3802.6 1529.6 3799.8 1533.0 3798.0 C1536.8 3796.0 1541.6 3792.9 1546.0 3793.6 C1551.5 3794.4 1557.9 3800.2 1563.0 3805.8 C1569.5 3813.0 1574.3 3824.5 1580.0 3835.0 C1586.5 3846.9 1593.3 3859.9 1599.5 3873.7 C1606.3 3888.8 1612.5 3906.1 1619.0 3922.3 C1625.5 3938.5 1631.0 3957.2 1638.3 3971.0 C1644.2 3982.3 1650.1 3994.0 1657.7 4000.0 C1663.5 4004.6 1670.6 4005.6 1677.2 4007.2 C1683.6 4008.8 1691.2 4007.3 1696.6 4009.6 C1701.4 4011.6 1705.2 4014.6 1708.7 4019.3 C1713.7 4026.0 1716.5 4038.4 1720.8 4048.5 C1725.4 4059.4 1730.2 4072.3 1735.4 4082.5 C1740.0 4091.4 1744.6 4100.3 1750.0 4106.7 C1754.5 4111.9 1759.4 4115.8 1764.5 4118.9 C1769.1 4121.8 1774.2 4123.1 1779.0 4125.2" stroke="#ff0000" stroke-width="3.6" fill="none" stroke-linejoin="round" stroke-linecap="round"/>
<path d="M520.0 4187.5 C538.3 4187.5 557.6 4187.5 575.0 4187.5 C590.8 4187.5 607.1 4187.6 620.0 4187.3 C629.8 4187.1 637.6 4187.4 645.9 4186.4 C653.7 4185.4 661.3 4183.6 668.5 4181.5 C675.3 4179.5 681.6 4176.0 688.0 4174.4 C694.0 4172.9 699.9 4171.8 705.8 4171.8 C711.7 4171.8 717.5 4173.9 723.6 4174.4 C729.9 4175.0 736.9 4176.1 743.0 4175.0 C748.7 4174.0 753.6 4171.5 759.1 4168.6 C765.5 4165.3 772.1 4159.2 778.6 4155.6 C784.5 4152.3 790.7 4149.2 796.4 4147.6 C801.4 4146.2 806.0 4145.5 810.9 4145.9 C816.2 4146.4 821.5 4148.8 827.1 4150.8 C833.3 4153.0 840.0 4156.6 846.5 4158.9 C852.9 4161.2 859.1 4164.1 865.9 4164.7 C873.1 4165.3 881.1 4163.6 888.6 4162.1 C896.2 4160.6 904.7 4158.2 911.2 4155.6 C916.5 4153.5 920.7 4151.2 925.0 4148.5 C929.0 4145.9 933.0 4143.4 936.2 4140.0 C939.5 4136.5 941.5 4132.0 944.3 4127.5 C947.4 4122.5 950.8 4116.9 954.0 4111.4 C957.3 4105.7 960.7 4099.4 963.7 4093.6 C966.6 4088.1 969.1 4082.8 971.8 4077.4 C974.5 4072.0 977.2 4066.6 979.9 4061.2 C982.6 4055.8 985.3 4050.2 988.0 4045.0 C990.6 4040.0 993.0 4034.8 996.0 4030.5 C998.7 4026.5 1001.6 4022.4 1005.0 4019.9 C1007.9 4017.8 1011.8 4015.9 1014.7 4015.9 C1017.0 4015.9 1019.0 4017.0 1021.0 4018.5 C1023.5 4020.3 1025.6 4023.1 1028.0 4026.8 C1032.0 4032.9 1036.6 4044.1 1040.9 4052.7 C1045.2 4061.3 1048.7 4070.9 1053.8 4078.6 C1058.5 4085.8 1063.8 4093.1 1070.0 4098.0 C1075.8 4102.6 1082.6 4104.8 1089.4 4107.7 C1096.6 4110.8 1105.1 4112.0 1112.1 4115.8 C1119.1 4119.6 1125.0 4124.7 1131.5 4130.4 C1139.0 4136.9 1146.4 4146.1 1154.2 4153.0 C1161.6 4159.5 1168.7 4165.9 1176.8 4170.8 C1184.9 4175.6 1193.1 4179.5 1202.7 4182.2 C1213.8 4185.3 1228.6 4186.3 1240.0 4187.1 C1249.6 4187.8 1260.7 4188.4 1266.7 4187.5 C1269.9 4187.0 1271.7 4186.5 1273.8 4185.3 C1275.9 4184.0 1277.5 4182.0 1279.2 4180.0 C1281.1 4177.8 1282.9 4175.5 1284.5 4172.8 C1286.3 4169.7 1287.6 4165.9 1289.0 4162.1 C1290.6 4157.9 1292.0 4153.2 1293.4 4148.8 C1294.7 4144.6 1295.8 4140.5 1297.0 4136.3 C1298.2 4132.2 1299.3 4128.0 1300.5 4123.9 C1301.7 4120.0 1302.8 4115.9 1304.1 4112.3 C1305.2 4109.1 1306.2 4106.1 1307.6 4103.4 C1308.9 4100.9 1310.3 4098.1 1312.1 4096.7 C1313.6 4095.5 1315.5 4095.4 1317.4 4095.0 C1319.6 4094.6 1322.7 4095.2 1324.6 4094.5 C1326.1 4093.9 1327.1 4093.1 1328.1 4091.8 C1329.6 4090.0 1330.7 4086.8 1331.7 4083.8 C1332.8 4080.4 1333.5 4076.3 1334.3 4072.3 C1335.2 4068.0 1335.9 4063.4 1336.6 4058.9 C1337.3 4054.2 1337.9 4049.6 1338.5 4044.6 C1339.1 4039.0 1339.6 4032.7 1340.1 4026.8 C1340.6 4020.9 1341.0 4014.9 1341.4 4009.0 C1341.9 4003.1 1342.3 3997.1 1342.8 3991.2 C1343.2 3985.3 1343.7 3979.3 1344.1 3973.4 C1344.5 3967.5 1345.0 3961.5 1345.4 3955.6 C1345.9 3949.7 1346.3 3943.7 1346.8 3937.8 C1347.2 3931.9 1347.7 3927.2 1348.1 3920.0 C1348.7 3908.8 1349.3 3890.4 1349.9 3877.1 C1350.4 3865.5 1351.0 3855.5 1351.5 3844.7 C1352.0 3833.9 1352.6 3823.2 1353.1 3812.4 C1353.6 3801.6 1353.9 3793.2 1354.5 3780.0 C1355.4 3759.2 1357.1 3724.8 1358.3 3699.4 C1359.4 3676.6 1360.8 3655.8 1361.6 3634.7 C1362.4 3614.4 1362.9 3591.2 1363.3 3575.0 C1363.6 3564.0 1363.5 3557.2 1364.0 3547.1 C1364.5 3535.2 1365.6 3521.2 1366.6 3508.3 C1367.6 3495.4 1368.9 3482.5 1369.8 3469.5 C1370.7 3456.4 1371.1 3442.8 1372.0 3430.0 C1372.9 3418.0 1373.6 3406.0 1375.0 3395.0 C1376.2 3385.1 1377.8 3375.9 1379.5 3367.0 C1381.1 3358.7 1383.1 3350.4 1385.0 3343.0 C1386.6 3336.5 1387.7 3330.4 1390.0 3325.0 C1392.1 3320.1 1395.3 3311.7 1397.7 3311.7 C1399.8 3311.7 1402.0 3318.0 1403.5 3322.0 C1405.4 3327.0 1406.0 3332.8 1407.0 3340.0 C1408.5 3350.5 1409.4 3365.9 1410.6 3378.8 C1411.9 3391.8 1413.2 3404.7 1414.5 3417.7 C1415.8 3430.6 1417.1 3443.6 1418.4 3456.5 C1419.7 3469.4 1421.0 3482.4 1422.3 3495.3 C1423.6 3508.3 1424.8 3521.3 1426.1 3534.2 C1427.3 3546.9 1428.4 3558.8 1429.8 3572.0 C1431.4 3586.7 1433.3 3602.8 1435.2 3618.5 C1437.2 3634.5 1439.3 3651.7 1441.6 3667.1 C1443.7 3681.2 1445.9 3694.0 1448.1 3707.5 C1450.3 3721.0 1452.2 3734.5 1454.6 3748.0 C1457.0 3761.5 1459.5 3775.7 1462.7 3788.4 C1465.6 3799.9 1468.9 3810.9 1472.4 3820.8 C1475.4 3829.5 1478.6 3837.6 1482.1 3845.0 C1485.2 3851.5 1488.6 3858.4 1491.8 3862.9 C1494.0 3866.0 1495.9 3868.3 1498.3 3870.0 C1500.4 3871.5 1502.5 3872.8 1505.0 3873.0 C1508.0 3873.2 1511.8 3871.2 1515.0 3870.0 C1518.2 3868.8 1520.8 3866.8 1524.2 3866.0 C1527.9 3865.1 1532.3 3864.1 1536.4 3865.0 C1541.2 3866.1 1546.6 3869.3 1551.0 3873.7 C1556.6 3879.3 1561.0 3888.7 1565.5 3898.0 C1570.9 3909.2 1574.8 3922.8 1580.0 3936.8 C1586.0 3953.2 1592.9 3972.9 1599.5 3990.2 C1605.9 4006.8 1612.2 4023.6 1619.0 4038.8 C1625.2 4052.6 1631.3 4066.1 1638.3 4077.6 C1644.4 4087.6 1650.3 4098.7 1657.7 4104.3 C1663.6 4108.8 1670.6 4111.1 1677.2 4111.6 C1683.6 4112.1 1690.8 4106.7 1696.6 4107.7 C1702.0 4108.6 1706.5 4112.4 1711.0 4116.4 C1716.4 4121.2 1720.8 4129.3 1725.7 4135.8 C1730.6 4142.3 1735.1 4149.4 1740.2 4155.3 C1744.9 4160.7 1749.7 4165.7 1754.8 4169.8 C1759.5 4173.6 1764.9 4177.1 1769.4 4179.5 C1772.8 4181.3 1775.8 4182.1 1779.0 4183.4" stroke="#000000" stroke-width="3.6" fill="none" stroke-linejoin="round" stroke-linecap="round"/>
<line x1="59.5" y1="3075.0" x2="59.5" y2="4197.5" stroke="#000" stroke-width="6.0"/>
<line x1="57.5" y1="4195.0" x2="457.5" y2="4195.0" stroke="#000" stroke-width="5.0"/>
<line x1="487.5" y1="4195.0" x2="1867.5" y2="4195.0" stroke="#000" stroke-width="5.0"/>
<path d="M480.0 3937.5 C475.8 3945.0 470.4 3951.1 467.5 3960.0 C463.9 3971.1 462.1 3986.7 462.5 4000.0 C462.9 4013.4 466.7 4026.8 470.0 4040.0 C473.3 4053.4 480.3 4067.5 482.5 4080.0 C484.4 4090.6 485.4 4099.7 484.0 4110.0 C482.5 4121.4 476.8 4132.3 472.5 4145.0 C467.3 4160.2 460.9 4179.9 455.0 4195.0 C450.0 4207.8 445.2 4218.4 440.0 4230.0 C434.8 4241.7 429.3 4253.3 424.0 4265.0" stroke="#000000" stroke-width="5.0" fill="none" stroke-linecap="butt"/>
<path d="M524.0 3940.0 C520.2 3948.3 514.9 3955.7 512.5 3965.0 C509.8 3975.5 509.3 3988.0 510.0 4000.0 C510.7 4012.9 514.5 4026.3 517.5 4040.0 C520.7 4054.6 527.8 4070.8 529.0 4085.0 C530.0 4097.3 528.5 4108.1 526.0 4120.0 C523.3 4133.0 517.2 4146.7 512.5 4160.0 C507.7 4173.4 502.7 4187.2 497.5 4200.0 C492.6 4212.1 487.6 4223.6 482.5 4235.0 C477.6 4246.1 472.5 4256.7 467.5 4267.5" stroke="#000000" stroke-width="5.0" fill="none" stroke-linecap="butt"/>
<line x1="80.0" y1="4195.0" x2="80.0" y2="4206.0" stroke="#000" stroke-width="4.5"/>
<line x1="272.5" y1="4195.0" x2="272.5" y2="4206.0" stroke="#000" stroke-width="4.5"/>
<line x1="516.0" y1="4195.0" x2="516.0" y2="4206.0" stroke="#000" stroke-width="4.5"/>
<line x1="685.0" y1="4195.0" x2="685.0" y2="4206.0" stroke="#000" stroke-width="4.5"/>
<line x1="852.5" y1="4195.0" x2="852.5" y2="4206.0" stroke="#000" stroke-width="4.5"/>
<line x1="1020.0" y1="4195.0" x2="1020.0" y2="4206.0" stroke="#000" stroke-width="4.5"/>
<line x1="1187.5" y1="4195.0" x2="1187.5" y2="4206.0" stroke="#000" stroke-width="4.5"/>
<line x1="1356.0" y1="4195.0" x2="1356.0" y2="4206.0" stroke="#000" stroke-width="4.5"/>
<line x1="1525.5" y1="4195.0" x2="1525.5" y2="4206.0" stroke="#000" stroke-width="4.5"/>
<line x1="1693.5" y1="4195.0" x2="1693.5" y2="4206.0" stroke="#000" stroke-width="4.5"/>
<line x1="1861.0" y1="4195.0" x2="1861.0" y2="4206.0" stroke="#000" stroke-width="4.5"/>
<line x1="268.0" y1="3862.5" x2="268.0" y2="3893.5" stroke="#000" stroke-width="6.0"/>
<line x1="301.2" y1="3877.5" x2="301.2" y2="3906.5" stroke="#000" stroke-width="6.0"/>
<line x1="720.5" y1="3952.5" x2="720.5" y2="3975.0" stroke="#000" stroke-width="5.5"/>
<line x1="810.5" y1="3952.5" x2="810.5" y2="3975.0" stroke="#000" stroke-width="5.5"/>
<line x1="716.5" y1="4059.0" x2="716.5" y2="4079.0" stroke="#000" stroke-width="5.5"/>
<line x1="811.0" y1="4040.0" x2="811.0" y2="4057.5" stroke="#000" stroke-width="5.5"/>
<line x1="897.5" y1="4056.0" x2="897.5" y2="4069.0" stroke="#000" stroke-width="5.5"/>
<line x1="705.0" y1="4152.5" x2="705.0" y2="4167.5" stroke="#000" stroke-width="5.5"/>
<line x1="812.5" y1="4120.0" x2="812.5" y2="4135.0" stroke="#000" stroke-width="5.5"/>
<line x1="1015.0" y1="3980.0" x2="1015.0" y2="4004.0" stroke="#000" stroke-width="5.5"/>
<line x1="1013.5" y1="3742.5" x2="1013.5" y2="3761.0" stroke="#000" stroke-width="5.5"/>
<line x1="1015.0" y1="3857.5" x2="1015.0" y2="3876.0" stroke="#000" stroke-width="5.5"/>
<line x1="1115.0" y1="3934.0" x2="1115.0" y2="3952.5" stroke="#000" stroke-width="5.5"/>
<line x1="1116.5" y1="4011.0" x2="1116.5" y2="4030.0" stroke="#000" stroke-width="5.5"/>
<line x1="1122.5" y1="4097.5" x2="1122.5" y2="4112.5" stroke="#000" stroke-width="5.5"/>
<line x1="1306.3" y1="3937.0" x2="1306.3" y2="3958.3" stroke="#000" stroke-width="5.5"/>
<line x1="1394.5" y1="3089.0" x2="1394.5" y2="3109.0" stroke="#000" stroke-width="5.5"/>
<line x1="1360.5" y1="3239.2" x2="1360.5" y2="3265.0" stroke="#000" stroke-width="5.5"/>
<line x1="1461.8" y1="3447.4" x2="1461.8" y2="3469.5" stroke="#000" stroke-width="5.5"/>
<line x1="1545.0" y1="3636.0" x2="1545.0" y2="3665.0" stroke="#000" stroke-width="5.5"/>
<line x1="1698.5" y1="3917.5" x2="1698.5" y2="3940.0" stroke="#000" stroke-width="5.5"/>
<line x1="907.5" y1="3840.0" x2="1015.0" y2="3977.5" stroke="#000" stroke-width="2"/>
<line x1="1096.0" y1="3802.5" x2="1015.0" y2="3855.0" stroke="#000" stroke-width="2"/>
<line x1="1157.5" y1="3975.0" x2="1117.5" y2="4010.0" stroke="#000" stroke-width="2"/>
<line x1="1199.0" y1="4029.0" x2="1122.5" y2="4097.5" stroke="#000" stroke-width="2"/>
<path d="M118.5 3266.0 H108.5 V3399.5 H118.5" stroke="#000" stroke-width="5.5" fill="none"/>
<path d="M685.8 3256.6 H675.8 V3393.4 H685.8" stroke="#000" stroke-width="5.5" fill="none"/>
<circle cx="420.0" cy="4026.0" r="20.5" stroke="#000" stroke-width="3" fill="none"/>
<text x="420.0" y="4041.0" class="c">3</text>
<circle cx="422.5" cy="4096.5" r="20.5" stroke="#000" stroke-width="3" fill="none"/>
<text x="422.5" y="4111.5" class="c">2</text>
<circle cx="426.0" cy="4159.0" r="20.5" stroke="#000" stroke-width="3" fill="none"/>
<text x="426.0" y="4174.0" class="c">1</text>
<rect x="56.5" y="4052.5" width="4.0" height="3.5" fill="#0070c0"/>
<text x="229.2" y="3848.5" class="a">2153</text>
<text x="340.2" y="3866.5" class="a">2143</text>
<text x="708.8" y="3941.5" class="a">2188</text>
<text x="836.2" y="3941.5" class="a">2162</text>
<text x="738.8" y="4050.0" class="a">2190</text>
<text x="893.8" y="4047.5" class="a">2135</text>
<text x="715.8" y="4146.0" class="a">2193</text>
<text x="868.2" y="4134.0" class="a">2165</text>
<text x="898.0" y="3827.5" class="a">2103</text>
<text x="1016.2" y="3729.0" class="a">2102</text>
<text x="1120.0" y="3789.0" class="a">2102</text>
<text x="1132.5" y="3916.0" class="a">2075</text>
<text x="1188.8" y="3967.5" class="a">2073</text>
<text x="1212.0" y="4022.5" class="a">2065</text>
<text x="1280.8" y="3921.0" class="a">2010</text>
<text x="1397.0" y="3075.0" class="a">1992</text>
<text x="1317.5" y="3225.0" class="a">1997</text>
<text x="1497.5" y="3431.0" class="a">1972</text>
<text x="1560.0" y="3623.5" class="a">1946</text>
<text x="1725.0" y="3898.5" class="a">1900</text>
<text x="165.8" y="3345.0" class="a">0.05</text>
<text x="732.3" y="3337.0" class="a">0.05</text>
<text x="1904.0" y="3314.0" class="L">C</text>
<text x="96.5" y="3135.0" class="w">F(R)&#160; KMU</text>
<text x="1443.6" y="4334.5" class="w">wavenumber&#160; cm<tspan dy="-10">-1</tspan></text>
<text x="83.8" y="4261.0" class="t">2400</text>
<text x="267.2" y="4261.0" class="t">2350</text>
<text x="678.8" y="4264.0" class="t">2200</text>
<text x="845.2" y="4264.0" class="t">2150</text>
<text x="1014.5" y="4263.5" class="t">2100</text>
<text x="1181.8" y="4264.0" class="t">2050</text>
<text x="1350.8" y="4264.0" class="t">2000</text>
<text x="1517.8" y="4264.0" class="t">1950</text>
<text x="1685.2" y="4264.0" class="t">1900</text>
<text x="1853.8" y="4264.0" class="t">1850</text>
</svg>
</body></html>
